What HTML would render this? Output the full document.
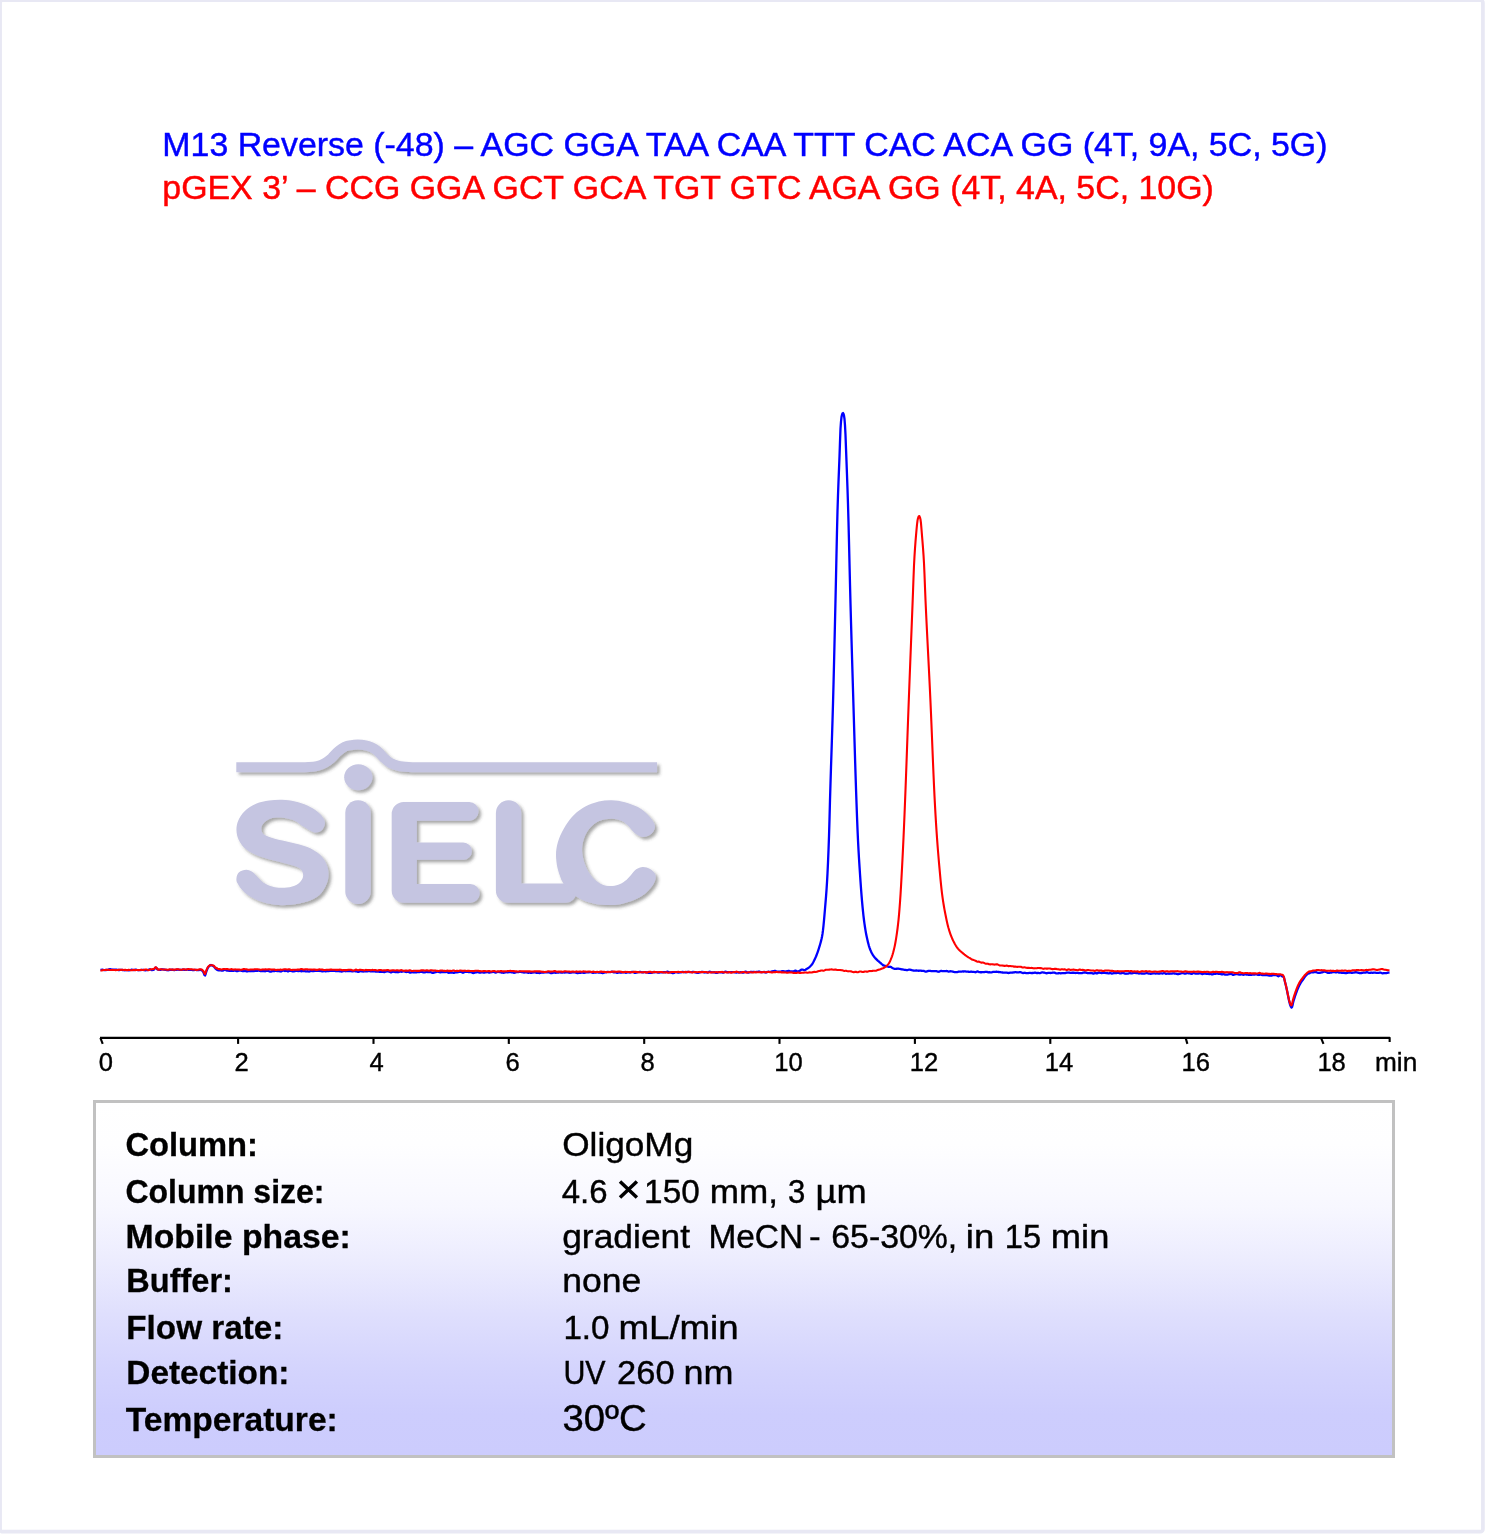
<!DOCTYPE html>
<html lang="en">
<head>
<meta charset="utf-8">
<title>Chromatogram</title>
<style>
html,body{margin:0;padding:0;background:#fff;}
body{width:1487px;height:1536px;overflow:hidden;}
svg{display:block;font-family:"Liberation Sans",sans-serif;will-change:transform;}
</style>
</head>
<body>
<svg width="1487" height="1536" viewBox="0 0 1487 1536">
<defs>
<linearGradient id="boxg" x1="0" y1="0" x2="0" y2="1">
<stop offset="0" stop-color="#ffffff"/>
<stop offset="0.12" stop-color="#fefeff"/>
<stop offset="0.30" stop-color="#f7f7ff"/>
<stop offset="0.45" stop-color="#ececfe"/>
<stop offset="0.60" stop-color="#dfdffd"/>
<stop offset="0.75" stop-color="#d4d4fd"/>
<stop offset="0.88" stop-color="#cdcdfd"/>
<stop offset="1" stop-color="#ccccfd"/>
</linearGradient>
<filter id="sh" x="-5%" y="-5%" width="110%" height="110%">
<feDropShadow dx="2.6" dy="2.6" stdDeviation="1.4" flood-color="#404040" flood-opacity="0.46"/>
</filter>
</defs>
<rect width="1487" height="1536" fill="#fff"/>
<rect x="0.1" y="0.15" width="1482.8" height="1531.55" rx="2.5" ry="2.5" fill="none" stroke="#e8e8f4" stroke-width="3.7"/>

<g font-size="33.9px" stroke-width="0.45">
<text x="162.3" y="156.3" stroke="#0000ff" fill="#0000ff">M13 Reverse (-48) – AGC GGA TAA CAA TTT CAC ACA GG (4T, 9A, 5C, 5G)</text>
<text x="162.3" y="199.0" fill="#ff0000" stroke="#ff0000">pGEX 3’ – CCG GGA GCT GCA TGT GTC AGA GG (4T, 4A, 5C, 10G)</text>
</g>

<g fill="#c5c5e1" filter="url(#sh)">
<path d="M236.3,767.2 C241.9,767.2 259.4,767.2 270.0,767.2 C280.6,767.2 293.5,767.2 300.0,767.2 C306.5,767.2 305.9,767.3 308.8,767.1 C311.7,766.9 314.6,766.7 317.3,766.0 C320.0,765.3 322.5,764.3 324.8,763.0 C327.1,761.7 329.4,759.9 331.4,758.2 C333.4,756.5 334.9,754.2 336.6,752.6 C338.3,751.0 340.0,749.5 341.8,748.4 C343.6,747.3 345.4,746.4 347.4,745.8 C349.4,745.2 352.3,745.0 354.0,744.8 C355.7,744.6 356.5,744.6 357.8,744.6 C359.1,744.6 359.9,744.6 361.6,744.8 C363.3,745.0 366.1,745.3 368.2,746.0 C370.3,746.7 372.4,747.6 374.3,748.8 C376.2,750.0 377.9,751.5 379.5,753.1 C381.1,754.7 382.4,756.6 384.2,758.2 C386.0,759.9 387.9,761.7 390.3,763.0 C392.7,764.3 395.2,765.1 398.3,765.8 C401.4,766.5 405.5,766.8 408.6,767.0 C411.7,767.2 411.9,767.2 417.1,767.2 C422.3,767.2 400.0,767.2 440.0,767.2 C480.0,767.2 620.9,767.2 657.1,767.2" fill="none" stroke="#c5c5e1" stroke-width="10"/>
<ellipse cx="358.3" cy="777.3" rx="14.1" ry="13.0"/>
<path d="M324.8,824.2 C324.4,826.2 323.3,829.1 321.5,830.5 C319.7,831.9 316.9,832.9 313.8,832.3 C310.8,831.6 306.3,828.5 303.2,826.6 C300.1,824.7 298.5,822.4 295.1,820.9 C291.7,819.4 287.0,818.1 282.9,817.7 C278.8,817.3 273.9,817.5 270.7,818.5 C267.4,819.5 265.0,821.6 263.4,823.4 C261.8,825.2 261.2,827.2 261.3,829.1 C261.4,831.0 261.9,833.2 264.2,834.8 C266.4,836.4 270.3,837.5 274.8,838.8 C279.3,840.1 285.6,841.1 291.0,842.5 C296.4,843.9 302.6,845.0 307.3,847.0 C312.1,849.0 316.4,851.6 319.5,854.3 C322.6,857.0 324.5,860.1 326.0,863.2 C327.5,866.3 328.4,869.6 328.5,873.0 C328.6,876.4 328.3,879.9 326.8,883.6 C325.3,887.3 322.8,892.0 319.5,895.0 C316.2,898.0 312.1,899.9 307.3,901.5 C302.6,903.1 296.4,904.2 291.0,904.7 C285.6,905.2 280.2,905.4 274.8,904.7 C269.4,904.0 263.5,902.7 258.5,900.7 C253.5,898.7 248.1,895.4 244.6,892.5 C241.1,889.6 239.0,886.0 237.7,883.6 C236.3,881.2 236.3,879.8 236.5,877.9 C236.7,876.0 237.4,873.6 239.0,872.2 C240.6,870.8 244.0,869.7 246.3,869.7 C248.6,869.7 250.8,870.8 252.8,872.2 C254.8,873.6 256.5,876.0 258.5,877.9 C260.5,879.8 262.3,882.0 265.0,883.6 C267.7,885.2 271.1,886.5 274.8,887.2 C278.5,887.9 283.4,888.0 287.0,887.6 C290.6,887.2 294.1,886.3 296.7,884.8 C299.3,883.3 301.4,880.7 302.4,878.7 C303.4,876.7 303.3,874.8 302.8,873.0 C302.3,871.2 301.2,869.5 299.2,868.1 C297.2,866.8 295.1,866.1 291.0,864.9 C286.9,863.7 280.2,862.3 274.8,860.8 C269.4,859.3 263.2,857.8 258.5,855.9 C253.8,854.0 249.6,852.0 246.3,849.4 C243.1,846.8 240.6,843.5 239.0,840.4 C237.4,837.3 236.7,834.0 236.5,830.7 C236.3,827.5 236.8,824.1 238.1,820.9 C239.4,817.6 241.6,814.1 244.6,811.2 C247.6,808.4 251.9,805.6 256.0,803.8 C260.1,802.0 264.8,801.3 269.1,800.6 C273.5,799.9 277.8,799.7 282.1,799.8 C286.4,799.9 290.9,800.4 295.1,801.4 C299.3,802.4 303.5,803.7 307.3,805.5 C311.1,807.3 315.2,809.8 317.9,812.0 C320.6,814.2 322.5,816.5 323.6,818.5 C324.8,820.5 325.2,822.2 324.8,824.2Z"/>
<rect x="345.3" y="800.3" width="25.4" height="103.6" rx="12.3" ry="12.3"/>
<path d="M403.7,802.1 H469.2 A9.35,9.35 0 0 1 469.2,820.8 H416.8 V842.5 H463.2 A8.65,8.65 0 0 1 463.2,859.8 H416.8 V884.1 H470.3 A9.35,9.35 0 0 1 470.3,902.8 H403.7 A12,12 0 0 1 391.7,890.8 V814.1 A12,12 0 0 1 403.7,802.1 Z"/>
<path d="M495.9,812.9 A12.7,12.7 0 0 1 521.3,812.9 V883.4 H576 V892.8 A10,10 0 0 1 566,902.8 H507.9 A12,12 0 0 1 495.9,890.8 Z"/>
<path d="M654.9,827.6 C655.1,825.7 654.7,824.2 653.5,822.0 C652.3,819.8 650.2,816.9 647.6,814.4 C645.0,811.9 641.7,809.1 637.9,807.1 C634.1,805.1 629.2,803.4 624.9,802.2 C620.5,801.1 616.1,800.3 611.8,800.2 C607.4,800.1 603.1,800.4 598.8,801.4 C594.5,802.4 589.9,804.1 585.8,806.3 C581.7,808.5 577.8,811.1 574.4,814.4 C571.0,817.6 568.1,821.7 565.5,825.8 C562.9,829.9 560.6,834.5 559.0,838.8 C557.4,843.1 556.5,847.4 556.1,851.8 C555.8,856.1 556.3,861.0 556.9,864.9 C557.5,868.8 558.8,872.4 559.8,875.4 C560.8,878.4 561.5,880.3 563.0,882.8 C564.5,885.3 566.3,888.3 568.5,890.5 C570.7,892.7 573.4,894.5 576.0,896.2 C578.6,897.9 580.9,899.4 584.2,900.7 C587.5,902.0 591.5,903.2 595.6,903.9 C599.7,904.6 604.3,905.1 608.6,905.1 C612.9,905.1 617.3,904.8 621.6,903.9 C625.9,903.0 630.8,901.4 634.6,899.8 C638.4,898.2 641.5,896.4 644.4,894.2 C647.2,892.0 649.9,889.2 651.7,886.8 C653.5,884.3 654.9,881.7 655.4,879.5 C655.9,877.3 655.9,875.6 655.0,873.8 C654.1,872.0 652.1,870.0 650.1,868.9 C648.1,867.8 645.1,866.8 642.8,866.9 C640.5,867.0 638.2,867.9 636.2,869.3 C634.2,870.7 632.5,873.4 630.6,875.4 C628.7,877.4 627.0,879.5 624.9,881.1 C622.8,882.7 620.8,884.0 618.3,884.8 C615.8,885.6 612.9,886.1 610.2,886.0 C607.5,885.9 604.8,885.6 602.1,884.4 C599.4,883.2 596.4,881.2 593.9,878.7 C591.4,876.2 589.1,873.0 587.4,869.7 C585.6,866.5 584.3,862.7 583.4,859.2 C582.5,855.7 582.0,852.1 582.1,848.6 C582.2,845.1 583.0,841.2 584.2,838.0 C585.4,834.8 587.1,831.7 589.1,829.1 C591.1,826.5 593.7,824.1 596.4,822.5 C599.1,820.9 602.3,819.9 605.3,819.3 C608.3,818.7 611.4,818.6 614.3,818.9 C617.1,819.2 620.0,820.0 622.4,821.3 C624.8,822.6 626.9,824.6 628.9,826.6 C630.9,828.6 632.7,831.5 634.6,833.1 C636.5,834.7 638.4,835.8 640.3,836.4 C642.2,837.0 644.2,837.1 646.2,836.6 C648.2,836.1 650.5,834.8 652.0,833.3 C653.5,831.8 654.6,829.5 654.9,827.6Z"/>
</g>

<path d="M100.5,970.00 L101.0,969.93 L101.5,969.82 L102.0,969.71 L102.5,969.70 L103.0,969.81 L103.5,969.95 L104.0,970.03 L104.5,970.05 L105.0,970.04 L105.5,970.02 L106.0,970.00 L106.5,969.98 L107.0,969.93 L107.5,969.87 L108.0,969.78 L108.5,969.62 L109.0,969.41 L109.5,969.23 L110.0,969.19 L110.5,969.26 L111.0,969.43 L111.5,969.64 L112.0,969.76 L112.5,969.72 L113.0,969.61 L113.5,969.53 L114.0,969.54 L114.5,969.60 L115.0,969.65 L115.5,969.60 L116.0,969.56 L116.5,969.62 L117.0,969.75 L117.5,969.88 L118.0,969.98 L118.5,970.02 L119.0,970.01 L119.5,970.00 L120.0,969.96 L120.5,969.89 L121.0,969.88 L121.5,969.90 L122.0,969.94 L122.5,969.99 L123.0,970.03 L123.5,970.05 L124.0,970.13 L124.5,970.25 L125.0,970.27 L125.5,970.20 L126.0,970.11 L126.5,970.03 L127.0,970.05 L127.5,970.13 L128.0,970.20 L128.5,970.26 L129.0,970.29 L129.5,970.24 L130.0,970.13 L130.5,969.99 L131.0,969.85 L131.5,969.75 L132.0,969.73 L132.5,969.82 L133.0,969.98 L133.5,970.07 L134.0,970.05 L134.5,969.91 L135.0,969.73 L135.5,969.61 L136.0,969.64 L136.5,969.80 L137.0,970.00 L137.5,970.16 L138.0,970.18 L138.5,970.10 L139.0,970.06 L139.5,970.06 L140.0,970.10 L140.5,970.09 L141.0,970.04 L141.5,969.96 L142.0,969.88 L142.5,969.81 L143.0,969.79 L143.5,969.88 L144.0,970.04 L144.5,970.20 L145.0,970.26 L145.5,970.25 L146.0,970.22 L146.5,970.20 L147.0,970.19 L147.5,970.11 L148.0,969.98 L148.5,969.77 L149.0,969.54 L149.5,969.38 L150.0,969.35 L150.5,969.50 L151.0,969.78 L151.5,970.02 L152.0,970.08 L152.5,970.00 L153.0,969.89 L153.5,969.78 L154.0,969.49 L154.5,968.84 L155.0,968.12 L155.5,967.67 L156.0,967.56 L156.5,968.04 L157.0,968.79 L157.5,969.48 L158.0,969.60 L158.5,969.69 L159.0,969.81 L159.5,969.91 L160.0,969.94 L160.5,969.85 L161.0,969.66 L161.5,969.48 L162.0,969.38 L162.5,969.37 L163.0,969.44 L163.5,969.53 L164.0,969.62 L164.5,969.71 L165.0,969.83 L165.5,969.91 L166.0,969.94 L166.5,969.99 L167.0,970.09 L167.5,970.19 L168.0,970.24 L168.5,970.17 L169.0,970.02 L169.5,969.91 L170.0,969.91 L170.5,969.93 L171.0,969.90 L171.5,969.80 L172.0,969.70 L172.5,969.70 L173.0,969.83 L173.5,970.01 L174.0,970.14 L174.5,970.14 L175.0,970.01 L175.5,969.87 L176.0,969.79 L176.5,969.77 L177.0,969.77 L177.5,969.72 L178.0,969.67 L178.5,969.71 L179.0,969.79 L179.5,969.86 L180.0,969.92 L180.5,969.96 L181.0,969.95 L181.5,969.92 L182.0,969.82 L182.5,969.66 L183.0,969.59 L183.5,969.66 L184.0,969.78 L184.5,969.87 L185.0,969.91 L185.5,969.89 L186.0,969.83 L186.5,969.74 L187.0,969.67 L187.5,969.66 L188.0,969.73 L188.5,969.86 L189.0,969.95 L189.5,969.94 L190.0,969.88 L190.5,969.85 L191.0,969.85 L191.5,969.87 L192.0,969.92 L192.5,970.00 L193.0,970.11 L193.5,970.19 L194.0,970.14 L194.5,969.99 L195.0,969.86 L195.5,969.85 L196.0,969.94 L196.5,970.06 L197.0,970.14 L197.5,970.17 L198.0,970.17 L198.5,970.16 L199.0,970.10 L199.5,969.99 L200.0,969.89 L200.5,969.87 L201.0,969.95 L201.5,970.29 L202.0,970.28 L202.5,970.88 L203.0,971.57 L203.5,972.37 L204.0,973.73 L204.5,975.06 L205.0,975.46 L205.5,974.42 L206.0,972.62 L206.5,971.00 L207.0,969.74 L207.5,968.51 L208.0,967.47 L208.5,966.80 L209.0,966.39 L209.5,966.04 L210.0,965.26 L210.5,965.03 L211.0,965.01 L211.5,965.18 L212.0,965.42 L212.5,965.66 L213.0,965.84 L213.5,966.20 L214.0,966.59 L214.5,967.21 L215.0,967.91 L215.5,968.56 L216.0,969.00 L216.5,969.40 L217.0,969.78 L217.5,970.06 L218.0,970.22 L218.5,970.28 L219.0,970.27 L219.5,970.27 L220.0,970.28 L220.5,970.34 L221.0,970.46 L221.5,970.58 L222.0,970.66 L222.5,970.65 L223.0,970.55 L223.5,970.34 L224.0,970.03 L224.5,969.73 L225.0,969.63 L225.5,969.82 L226.0,970.14 L226.5,970.41 L227.0,970.56 L227.5,970.58 L228.0,970.61 L228.5,970.71 L229.0,970.81 L229.5,970.85 L230.0,970.87 L230.5,970.92 L231.0,970.96 L231.5,970.93 L232.0,970.84 L232.5,970.76 L233.0,970.74 L233.5,970.74 L234.0,970.73 L234.5,970.68 L235.0,970.64 L235.5,970.73 L236.0,970.93 L236.5,971.11 L237.0,971.21 L237.5,971.16 L238.0,970.93 L238.5,970.70 L239.0,970.60 L239.5,970.59 L240.0,970.63 L240.5,970.69 L241.0,970.72 L241.5,970.79 L242.0,970.94 L242.5,971.10 L243.0,971.21 L243.5,971.20 L244.0,971.06 L244.5,970.89 L245.0,970.81 L245.5,970.89 L246.0,971.11 L246.5,971.32 L247.0,971.39 L247.5,971.30 L248.0,971.15 L248.5,971.02 L249.0,970.97 L249.5,971.04 L250.0,971.16 L250.5,971.23 L251.0,971.18 L251.5,971.05 L252.0,970.99 L252.5,971.05 L253.0,971.15 L253.5,971.15 L254.0,971.03 L254.5,970.87 L255.0,970.82 L255.5,970.87 L256.0,970.94 L256.5,970.96 L257.0,970.91 L257.5,970.80 L258.0,970.70 L258.5,970.66 L259.0,970.69 L259.5,970.78 L260.0,970.95 L260.5,971.12 L261.0,971.21 L261.5,971.20 L262.0,971.13 L262.5,971.01 L263.0,970.91 L263.5,970.94 L264.0,971.08 L264.5,971.21 L265.0,971.25 L265.5,971.17 L266.0,970.99 L266.5,970.79 L267.0,970.70 L267.5,970.73 L268.0,970.83 L268.5,971.00 L269.0,971.23 L269.5,971.40 L270.0,971.51 L270.5,971.58 L271.0,971.55 L271.5,971.38 L272.0,971.15 L272.5,970.96 L273.0,970.94 L273.5,971.09 L274.0,971.21 L274.5,971.18 L275.0,971.02 L275.5,970.87 L276.0,970.85 L276.5,970.96 L277.0,971.06 L277.5,971.11 L278.0,971.10 L278.5,971.09 L279.0,971.09 L279.5,971.16 L280.0,971.31 L280.5,971.46 L281.0,971.48 L281.5,971.35 L282.0,971.09 L282.5,970.79 L283.0,970.59 L283.5,970.60 L284.0,970.77 L284.5,970.94 L285.0,971.00 L285.5,970.93 L286.0,970.80 L286.5,970.83 L287.0,971.07 L287.5,971.34 L288.0,971.42 L288.5,971.28 L289.0,971.04 L289.5,970.84 L290.0,970.78 L290.5,970.79 L291.0,970.83 L291.5,970.92 L292.0,971.11 L292.5,971.33 L293.0,971.46 L293.5,971.46 L294.0,971.34 L294.5,971.19 L295.0,971.05 L295.5,970.89 L296.0,970.75 L296.5,970.71 L297.0,970.79 L297.5,970.96 L298.0,971.13 L298.5,971.15 L299.0,971.03 L299.5,970.92 L300.0,970.91 L300.5,970.99 L301.0,971.15 L301.5,971.25 L302.0,971.19 L302.5,971.07 L303.0,971.00 L303.5,970.97 L304.0,971.00 L304.5,971.09 L305.0,971.21 L305.5,971.33 L306.0,971.43 L306.5,971.40 L307.0,971.28 L307.5,971.22 L308.0,971.30 L308.5,971.46 L309.0,971.54 L309.5,971.44 L310.0,971.20 L310.5,970.99 L311.0,970.91 L311.5,970.94 L312.0,971.07 L312.5,971.18 L313.0,971.19 L313.5,971.11 L314.0,971.01 L314.5,970.93 L315.0,970.90 L315.5,970.91 L316.0,970.89 L316.5,970.82 L317.0,970.75 L317.5,970.76 L318.0,970.84 L318.5,970.93 L319.0,970.98 L319.5,970.97 L320.0,970.92 L320.5,970.93 L321.0,971.04 L321.5,971.19 L322.0,971.30 L322.5,971.34 L323.0,971.29 L323.5,971.20 L324.0,971.15 L324.5,971.17 L325.0,971.23 L325.5,971.27 L326.0,971.24 L326.5,971.16 L327.0,971.12 L327.5,971.15 L328.0,971.21 L328.5,971.21 L329.0,971.11 L329.5,971.00 L330.0,970.89 L330.5,970.82 L331.0,970.82 L331.5,970.89 L332.0,970.95 L332.5,970.97 L333.0,970.91 L333.5,970.81 L334.0,970.79 L334.5,970.86 L335.0,970.96 L335.5,971.04 L336.0,971.11 L336.5,971.15 L337.0,971.14 L337.5,971.04 L338.0,970.91 L338.5,970.91 L339.0,971.03 L339.5,971.23 L340.0,971.39 L340.5,971.44 L341.0,971.45 L341.5,971.50 L342.0,971.51 L342.5,971.38 L343.0,971.13 L343.5,970.90 L344.0,970.86 L344.5,971.02 L345.0,971.19 L345.5,971.23 L346.0,971.18 L346.5,971.11 L347.0,971.07 L347.5,971.07 L348.0,971.09 L348.5,971.12 L349.0,971.16 L349.5,971.20 L350.0,971.13 L350.5,971.04 L351.0,971.08 L351.5,971.26 L352.0,971.45 L352.5,971.47 L353.0,971.30 L353.5,971.07 L354.0,970.97 L354.5,971.05 L355.0,971.19 L355.5,971.27 L356.0,971.27 L356.5,971.29 L357.0,971.45 L357.5,971.69 L358.0,971.87 L358.5,971.87 L359.0,971.70 L359.5,971.47 L360.0,971.29 L360.5,971.22 L361.0,971.22 L361.5,971.27 L362.0,971.36 L362.5,971.47 L363.0,971.52 L363.5,971.49 L364.0,971.38 L364.5,971.27 L365.0,971.23 L365.5,971.28 L366.0,971.36 L366.5,971.39 L367.0,971.35 L367.5,971.26 L368.0,971.19 L368.5,971.13 L369.0,971.10 L369.5,971.10 L370.0,971.19 L370.5,971.31 L371.0,971.42 L371.5,971.47 L372.0,971.42 L372.5,971.35 L373.0,971.32 L373.5,971.34 L374.0,971.36 L374.5,971.41 L375.0,971.47 L375.5,971.53 L376.0,971.59 L376.5,971.61 L377.0,971.56 L377.5,971.52 L378.0,971.55 L378.5,971.64 L379.0,971.73 L379.5,971.77 L380.0,971.74 L380.5,971.72 L381.0,971.75 L381.5,971.79 L382.0,971.77 L382.5,971.74 L383.0,971.77 L383.5,971.89 L384.0,972.01 L384.5,972.01 L385.0,971.90 L385.5,971.72 L386.0,971.55 L386.5,971.42 L387.0,971.31 L387.5,971.21 L388.0,971.22 L388.5,971.38 L389.0,971.57 L389.5,971.80 L390.0,972.05 L390.5,972.25 L391.0,972.33 L391.5,972.26 L392.0,972.03 L392.5,971.74 L393.0,971.59 L393.5,971.64 L394.0,971.81 L394.5,971.97 L395.0,972.02 L395.5,971.99 L396.0,971.97 L396.5,972.01 L397.0,972.12 L397.5,972.22 L398.0,972.23 L398.5,972.13 L399.0,971.94 L399.5,971.73 L400.0,971.62 L400.5,971.63 L401.0,971.70 L401.5,971.75 L402.0,971.71 L402.5,971.61 L403.0,971.48 L403.5,971.38 L404.0,971.36 L404.5,971.47 L405.0,971.66 L405.5,971.87 L406.0,972.01 L406.5,971.99 L407.0,971.83 L407.5,971.70 L408.0,971.68 L408.5,971.83 L409.0,972.12 L409.5,972.43 L410.0,972.58 L410.5,972.56 L411.0,972.45 L411.5,972.30 L412.0,972.18 L412.5,972.19 L413.0,972.29 L413.5,972.39 L414.0,972.43 L414.5,972.39 L415.0,972.32 L415.5,972.32 L416.0,972.37 L416.5,972.36 L417.0,972.25 L417.5,972.12 L418.0,972.09 L418.5,972.13 L419.0,972.14 L419.5,972.06 L420.0,971.94 L420.5,971.80 L421.0,971.75 L421.5,971.82 L422.0,971.97 L422.5,972.11 L423.0,972.24 L423.5,972.31 L424.0,972.31 L424.5,972.30 L425.0,972.25 L425.5,972.15 L426.0,972.02 L426.5,971.94 L427.0,971.97 L427.5,972.06 L428.0,972.11 L428.5,972.10 L429.0,972.08 L429.5,972.08 L430.0,972.10 L430.5,972.14 L431.0,972.24 L431.5,972.45 L432.0,972.72 L432.5,972.90 L433.0,972.92 L433.5,972.79 L434.0,972.60 L434.5,972.40 L435.0,972.27 L435.5,972.17 L436.0,972.05 L436.5,971.92 L437.0,971.79 L437.5,971.70 L438.0,971.72 L438.5,971.85 L439.0,972.03 L439.5,972.16 L440.0,972.24 L440.5,972.27 L441.0,972.24 L441.5,972.12 L442.0,972.02 L442.5,972.02 L443.0,972.08 L443.5,972.14 L444.0,972.14 L444.5,972.11 L445.0,972.08 L445.5,972.03 L446.0,971.96 L446.5,971.93 L447.0,972.07 L447.5,972.33 L448.0,972.59 L448.5,972.75 L449.0,972.78 L449.5,972.71 L450.0,972.64 L450.5,972.59 L451.0,972.55 L451.5,972.52 L452.0,972.54 L452.5,972.63 L453.0,972.73 L453.5,972.84 L454.0,972.83 L454.5,972.66 L455.0,972.39 L455.5,972.20 L456.0,972.18 L456.5,972.28 L457.0,972.34 L457.5,972.26 L458.0,972.12 L458.5,972.01 L459.0,971.95 L459.5,971.97 L460.0,971.96 L460.5,971.89 L461.0,971.90 L461.5,972.03 L462.0,972.29 L462.5,972.60 L463.0,972.76 L463.5,972.63 L464.0,972.31 L464.5,971.97 L465.0,971.76 L465.5,971.74 L466.0,971.81 L466.5,971.86 L467.0,971.87 L467.5,971.90 L468.0,971.98 L468.5,972.09 L469.0,972.16 L469.5,972.17 L470.0,972.10 L470.5,971.98 L471.0,971.95 L471.5,972.11 L472.0,972.46 L472.5,972.84 L473.0,973.05 L473.5,973.01 L474.0,972.83 L474.5,972.65 L475.0,972.53 L475.5,972.45 L476.0,972.37 L476.5,972.28 L477.0,972.22 L477.5,972.15 L478.0,972.15 L478.5,972.26 L479.0,972.42 L479.5,972.55 L480.0,972.61 L480.5,972.57 L481.0,972.45 L481.5,972.37 L482.0,972.36 L482.5,972.39 L483.0,972.48 L483.5,972.60 L484.0,972.64 L484.5,972.57 L485.0,972.48 L485.5,972.41 L486.0,972.31 L486.5,972.20 L487.0,972.11 L487.5,972.11 L488.0,972.25 L488.5,972.46 L489.0,972.58 L489.5,972.56 L490.0,972.44 L490.5,972.33 L491.0,972.28 L491.5,972.22 L492.0,972.08 L492.5,971.92 L493.0,971.79 L493.5,971.75 L494.0,971.87 L494.5,972.12 L495.0,972.40 L495.5,972.57 L496.0,972.54 L496.5,972.33 L497.0,972.06 L497.5,971.89 L498.0,971.89 L498.5,971.96 L499.0,972.00 L499.5,972.04 L500.0,972.11 L500.5,972.23 L501.0,972.39 L501.5,972.53 L502.0,972.60 L502.5,972.66 L503.0,972.73 L503.5,972.76 L504.0,972.72 L504.5,972.57 L505.0,972.39 L505.5,972.25 L506.0,972.20 L506.5,972.22 L507.0,972.33 L507.5,972.42 L508.0,972.39 L508.5,972.26 L509.0,972.10 L509.5,971.99 L510.0,972.00 L510.5,972.12 L511.0,972.23 L511.5,972.28 L512.0,972.31 L512.5,972.35 L513.0,972.48 L513.5,972.68 L514.0,972.80 L514.5,972.77 L515.0,972.60 L515.5,972.39 L516.0,972.24 L516.5,972.21 L517.0,972.21 L517.5,972.16 L518.0,972.10 L518.5,972.02 L519.0,971.90 L519.5,971.77 L520.0,971.75 L520.5,971.85 L521.0,971.99 L521.5,972.09 L522.0,972.13 L522.5,972.18 L523.0,972.29 L523.5,972.43 L524.0,972.52 L524.5,972.50 L525.0,972.39 L525.5,972.27 L526.0,972.21 L526.5,972.25 L527.0,972.39 L527.5,972.59 L528.0,972.75 L528.5,972.77 L529.0,972.68 L529.5,972.62 L530.0,972.69 L530.5,972.81 L531.0,972.88 L531.5,972.84 L532.0,972.73 L532.5,972.64 L533.0,972.58 L533.5,972.49 L534.0,972.34 L534.5,972.21 L535.0,972.24 L535.5,972.43 L536.0,972.66 L536.5,972.78 L537.0,972.76 L537.5,972.73 L538.0,972.77 L538.5,972.89 L539.0,972.99 L539.5,973.02 L540.0,972.95 L540.5,972.82 L541.0,972.70 L541.5,972.64 L542.0,972.60 L542.5,972.59 L543.0,972.60 L543.5,972.58 L544.0,972.52 L544.5,972.45 L545.0,972.38 L545.5,972.34 L546.0,972.35 L546.5,972.37 L547.0,972.40 L547.5,972.43 L548.0,972.41 L548.5,972.36 L549.0,972.34 L549.5,972.43 L550.0,972.67 L550.5,972.98 L551.0,973.20 L551.5,973.22 L552.0,973.05 L552.5,972.85 L553.0,972.75 L553.5,972.71 L554.0,972.69 L554.5,972.68 L555.0,972.72 L555.5,972.75 L556.0,972.74 L556.5,972.69 L557.0,972.62 L557.5,972.61 L558.0,972.63 L558.5,972.59 L559.0,972.43 L559.5,972.31 L560.0,972.31 L560.5,972.43 L561.0,972.60 L561.5,972.72 L562.0,972.69 L562.5,972.58 L563.0,972.49 L563.5,972.45 L564.0,972.44 L564.5,972.49 L565.0,972.49 L565.5,972.45 L566.0,972.43 L566.5,972.43 L567.0,972.40 L567.5,972.37 L568.0,972.41 L568.5,972.50 L569.0,972.63 L569.5,972.74 L570.0,972.75 L570.5,972.67 L571.0,972.60 L571.5,972.55 L572.0,972.48 L572.5,972.40 L573.0,972.36 L573.5,972.35 L574.0,972.35 L574.5,972.38 L575.0,972.44 L575.5,972.54 L576.0,972.70 L576.5,972.86 L577.0,973.00 L577.5,973.08 L578.0,973.08 L578.5,972.99 L579.0,972.87 L579.5,972.84 L580.0,972.88 L580.5,972.84 L581.0,972.68 L581.5,972.49 L582.0,972.42 L582.5,972.52 L583.0,972.69 L583.5,972.78 L584.0,972.77 L584.5,972.73 L585.0,972.68 L585.5,972.58 L586.0,972.43 L586.5,972.31 L587.0,972.30 L587.5,972.35 L588.0,972.41 L588.5,972.41 L589.0,972.33 L589.5,972.21 L590.0,972.08 L590.5,972.04 L591.0,972.12 L591.5,972.33 L592.0,972.57 L592.5,972.74 L593.0,972.78 L593.5,972.73 L594.0,972.70 L594.5,972.70 L595.0,972.70 L595.5,972.65 L596.0,972.57 L596.5,972.46 L597.0,972.39 L597.5,972.40 L598.0,972.45 L598.5,972.49 L599.0,972.49 L599.5,972.49 L600.0,972.48 L600.5,972.52 L601.0,972.65 L601.5,972.81 L602.0,972.99 L602.5,973.08 L603.0,973.02 L603.5,972.83 L604.0,972.63 L604.5,972.51 L605.0,972.47 L605.5,972.44 L606.0,972.33 L606.5,972.14 L607.0,971.97 L607.5,971.89 L608.0,971.93 L608.5,972.02 L609.0,972.12 L609.5,972.20 L610.0,972.18 L610.5,972.06 L611.0,971.89 L611.5,971.70 L612.0,971.65 L612.5,971.81 L613.0,972.07 L613.5,972.28 L614.0,972.38 L614.5,972.36 L615.0,972.31 L615.5,972.32 L616.0,972.44 L616.5,972.62 L617.0,972.78 L617.5,972.81 L618.0,972.72 L618.5,972.57 L619.0,972.46 L619.5,972.47 L620.0,972.57 L620.5,972.66 L621.0,972.63 L621.5,972.52 L622.0,972.42 L622.5,972.35 L623.0,972.32 L623.5,972.29 L624.0,972.21 L624.5,972.18 L625.0,972.37 L625.5,972.64 L626.0,972.78 L626.5,972.71 L627.0,972.50 L627.5,972.32 L628.0,972.26 L628.5,972.31 L629.0,972.40 L629.5,972.48 L630.0,972.51 L630.5,972.45 L631.0,972.27 L631.5,972.00 L632.0,971.79 L632.5,971.78 L633.0,971.92 L633.5,972.17 L634.0,972.49 L634.5,972.75 L635.0,972.85 L635.5,972.83 L636.0,972.76 L636.5,972.63 L637.0,972.49 L637.5,972.34 L638.0,972.19 L638.5,972.10 L639.0,972.06 L639.5,972.00 L640.0,971.95 L640.5,971.96 L641.0,972.07 L641.5,972.25 L642.0,972.42 L642.5,972.48 L643.0,972.42 L643.5,972.30 L644.0,972.18 L644.5,972.14 L645.0,972.18 L645.5,972.24 L646.0,972.26 L646.5,972.28 L647.0,972.33 L647.5,972.43 L648.0,972.63 L648.5,972.82 L649.0,972.89 L649.5,972.89 L650.0,972.89 L650.5,972.89 L651.0,972.90 L651.5,972.86 L652.0,972.68 L652.5,972.42 L653.0,972.28 L653.5,972.27 L654.0,972.30 L654.5,972.30 L655.0,972.24 L655.5,972.14 L656.0,972.06 L656.5,972.08 L657.0,972.21 L657.5,972.40 L658.0,972.56 L658.5,972.65 L659.0,972.65 L659.5,972.56 L660.0,972.47 L660.5,972.41 L661.0,972.39 L661.5,972.42 L662.0,972.46 L662.5,972.44 L663.0,972.35 L663.5,972.24 L664.0,972.15 L664.5,972.15 L665.0,972.24 L665.5,972.27 L666.0,972.16 L666.5,971.95 L667.0,971.74 L667.5,971.68 L668.0,971.86 L668.5,972.15 L669.0,972.33 L669.5,972.37 L670.0,972.38 L670.5,972.41 L671.0,972.52 L671.5,972.70 L672.0,972.89 L672.5,973.03 L673.0,973.09 L673.5,973.04 L674.0,972.85 L674.5,972.60 L675.0,972.38 L675.5,972.22 L676.0,972.10 L676.5,972.06 L677.0,972.17 L677.5,972.38 L678.0,972.53 L678.5,972.58 L679.0,972.52 L679.5,972.44 L680.0,972.42 L680.5,972.45 L681.0,972.39 L681.5,972.18 L682.0,971.96 L682.5,971.88 L683.0,971.96 L683.5,972.07 L684.0,972.15 L684.5,972.17 L685.0,972.19 L685.5,972.23 L686.0,972.23 L686.5,972.10 L687.0,971.96 L687.5,971.90 L688.0,971.91 L688.5,971.97 L689.0,972.03 L689.5,972.06 L690.0,972.07 L690.5,972.11 L691.0,972.15 L691.5,972.13 L692.0,972.08 L692.5,972.00 L693.0,971.91 L693.5,971.89 L694.0,971.97 L694.5,972.16 L695.0,972.35 L695.5,972.48 L696.0,972.57 L696.5,972.65 L697.0,972.75 L697.5,972.85 L698.0,972.87 L698.5,972.77 L699.0,972.59 L699.5,972.40 L700.0,972.25 L700.5,972.16 L701.0,972.07 L701.5,971.95 L702.0,971.85 L702.5,971.84 L703.0,971.97 L703.5,972.22 L704.0,972.44 L704.5,972.49 L705.0,972.39 L705.5,972.26 L706.0,972.19 L706.5,972.27 L707.0,972.44 L707.5,972.55 L708.0,972.48 L708.5,972.24 L709.0,971.93 L709.5,971.72 L710.0,971.76 L710.5,971.94 L711.0,972.10 L711.5,972.22 L712.0,972.31 L712.5,972.33 L713.0,972.32 L713.5,972.27 L714.0,972.21 L714.5,972.22 L715.0,972.39 L715.5,972.62 L716.0,972.81 L716.5,972.93 L717.0,972.89 L717.5,972.70 L718.0,972.43 L718.5,972.22 L719.0,972.12 L719.5,972.17 L720.0,972.24 L720.5,972.25 L721.0,972.27 L721.5,972.34 L722.0,972.44 L722.5,972.56 L723.0,972.64 L723.5,972.58 L724.0,972.37 L724.5,972.09 L725.0,971.82 L725.5,971.68 L726.0,971.76 L726.5,971.98 L727.0,972.13 L727.5,972.21 L728.0,972.26 L728.5,972.24 L729.0,972.18 L729.5,972.14 L730.0,972.10 L730.5,972.07 L731.0,972.11 L731.5,972.15 L732.0,972.09 L732.5,972.05 L733.0,972.06 L733.5,972.09 L734.0,972.15 L734.5,972.24 L735.0,972.36 L735.5,972.48 L736.0,972.58 L736.5,972.57 L737.0,972.46 L737.5,972.36 L738.0,972.38 L738.5,972.46 L739.0,972.51 L739.5,972.46 L740.0,972.30 L740.5,972.15 L741.0,972.13 L741.5,972.25 L742.0,972.43 L742.5,972.58 L743.0,972.65 L743.5,972.59 L744.0,972.39 L744.5,972.06 L745.0,971.76 L745.5,971.63 L746.0,971.73 L746.5,971.97 L747.0,972.23 L747.5,972.44 L748.0,972.56 L748.5,972.57 L749.0,972.45 L749.5,972.26 L750.0,972.09 L750.5,971.99 L751.0,971.98 L751.5,972.02 L752.0,972.02 L752.5,971.97 L753.0,971.88 L753.5,971.82 L754.0,971.85 L754.5,971.98 L755.0,972.06 L755.5,972.05 L756.0,971.99 L756.5,971.92 L757.0,971.93 L757.5,971.91 L758.0,971.79 L758.5,971.61 L759.0,971.52 L759.5,971.63 L760.0,971.87 L760.5,972.07 L761.0,972.09 L761.5,972.05 L762.0,972.08 L762.5,972.17 L763.0,972.18 L763.5,972.04 L764.0,971.90 L764.5,971.95 L765.0,972.18 L765.5,972.44 L766.0,972.51 L766.5,972.36 L767.0,972.12 L767.5,971.91 L768.0,971.77 L768.5,971.72 L769.0,971.78 L769.5,971.88 L770.0,971.96 L770.5,971.92 L771.0,971.74 L771.5,971.54 L772.0,971.39 L772.5,971.29 L773.0,971.21 L773.5,971.14 L774.0,971.03 L774.5,970.94 L775.0,970.90 L775.5,970.96 L776.0,971.18 L776.5,971.50 L777.0,971.72 L777.5,971.76 L778.0,971.68 L778.5,971.58 L779.0,971.58 L779.5,971.69 L780.0,971.75 L780.5,971.65 L781.0,971.48 L781.5,971.33 L782.0,971.25 L782.5,971.24 L783.0,971.25 L783.5,971.27 L784.0,971.30 L784.5,971.38 L785.0,971.50 L785.5,971.54 L786.0,971.44 L786.5,971.30 L787.0,971.21 L787.5,971.12 L788.0,971.01 L788.5,970.95 L789.0,970.99 L789.5,971.10 L790.0,971.26 L790.5,971.40 L791.0,971.41 L791.5,971.39 L792.0,971.44 L792.5,971.52 L793.0,971.50 L793.5,971.37 L794.0,971.17 L794.5,970.90 L795.0,970.70 L795.5,970.70 L796.0,970.88 L796.5,971.11 L797.0,971.27 L797.5,971.32 L798.0,971.28 L798.5,971.26 L799.0,971.21 L799.5,971.02 L800.0,970.66 L800.5,970.20 L801.0,969.83 L801.5,969.63 L802.0,969.57 L802.5,969.61 L803.0,969.73 L803.5,969.89 L804.0,970.03 L804.5,970.09 L805.0,970.01 L805.5,969.73 L806.0,969.36 L806.5,969.02 L807.0,968.71 L807.5,968.36 L808.0,968.22 L808.5,967.87 L809.0,967.47 L809.5,967.03 L810.0,966.55 L810.5,966.04 L811.0,965.49 L811.5,964.92 L812.0,964.29 L812.5,963.56 L813.0,962.73 L813.5,961.82 L814.0,960.84 L814.5,959.80 L815.0,958.73 L815.5,957.62 L816.0,956.48 L816.5,955.26 L817.0,953.96 L817.5,952.58 L818.0,951.12 L818.5,949.60 L819.0,948.00 L819.5,946.39 L820.0,944.76 L820.5,943.04 L821.0,941.17 L821.5,939.08 L822.0,936.68 L822.5,933.90 L823.0,930.21 L823.5,925.58 L824.0,920.28 L824.5,914.58 L825.0,908.76 L825.5,902.95 L826.0,896.83 L826.5,890.09 L827.0,882.39 L827.5,873.32 L828.0,862.63 L828.5,850.36 L829.0,836.54 L829.5,819.38 L830.0,800.00 L830.5,783.17 L831.0,767.39 L831.5,752.10 L832.0,736.74 L832.5,720.77 L833.0,703.62 L833.5,684.82 L834.0,664.54 L834.5,643.30 L835.0,621.62 L835.5,600.00 L836.0,577.37 L836.5,553.66 L837.0,530.87 L837.5,511.04 L838.0,495.20 L838.5,481.64 L839.0,469.13 L839.5,456.46 L840.0,441.86 L840.5,428.59 L841.0,421.63 L841.5,417.06 L842.0,414.85 L842.5,413.42 L843.0,413.05 L843.5,413.88 L844.0,415.59 L844.5,418.99 L845.0,425.42 L845.5,435.00 L846.0,448.41 L846.5,461.63 L847.0,474.93 L847.5,488.99 L848.0,504.33 L848.5,521.89 L849.0,542.01 L849.5,563.30 L850.0,584.33 L850.5,603.71 L851.0,621.83 L851.5,639.39 L852.0,656.50 L852.5,673.33 L853.0,690.01 L853.5,706.69 L854.0,723.57 L854.5,740.43 L855.0,757.04 L855.5,773.13 L856.0,788.46 L856.5,802.79 L857.0,816.43 L857.5,829.15 L858.0,840.30 L858.5,849.88 L859.0,858.50 L859.5,866.43 L860.0,874.00 L860.5,881.36 L861.0,888.39 L861.5,894.95 L862.0,900.90 L862.5,906.35 L863.0,911.45 L863.5,916.11 L864.0,920.24 L864.5,923.89 L865.0,927.26 L865.5,930.36 L866.0,933.20 L866.5,935.78 L867.0,938.11 L867.5,940.31 L868.0,942.38 L868.5,944.30 L869.0,946.07 L869.5,947.66 L870.0,949.05 L870.5,950.27 L871.0,951.39 L871.5,952.44 L872.0,953.40 L872.5,954.29 L873.0,955.11 L873.5,955.87 L874.0,956.57 L874.5,957.21 L875.0,957.82 L875.5,958.38 L876.0,958.92 L876.5,959.42 L877.0,959.90 L877.5,960.36 L878.0,960.81 L878.5,961.24 L879.0,961.67 L879.5,962.10 L880.0,962.53 L880.5,962.97 L881.0,963.40 L881.5,963.82 L882.0,964.21 L882.5,964.57 L883.0,965.15 L883.5,965.45 L884.0,965.58 L884.5,965.67 L885.0,965.84 L885.5,966.06 L886.0,966.21 L886.5,966.27 L887.0,966.34 L887.5,966.47 L888.0,966.66 L888.5,966.82 L889.0,966.86 L889.5,966.78 L890.0,966.73 L890.5,966.80 L891.0,967.01 L891.5,967.32 L892.0,967.69 L892.5,968.01 L893.0,968.26 L893.5,968.50 L894.0,968.68 L894.5,968.77 L895.0,968.82 L895.5,968.82 L896.0,968.78 L896.5,968.77 L897.0,968.76 L897.5,968.70 L898.0,968.67 L898.5,968.72 L899.0,968.80 L899.5,968.87 L900.0,968.95 L900.5,969.04 L901.0,969.15 L901.5,969.30 L902.0,969.42 L902.5,969.46 L903.0,969.51 L903.5,969.62 L904.0,969.74 L904.5,969.83 L905.0,969.92 L905.5,969.96 L906.0,969.98 L906.5,970.04 L907.0,970.09 L907.5,970.02 L908.0,969.89 L908.5,969.74 L909.0,969.60 L909.5,969.56 L910.0,969.64 L910.5,969.78 L911.0,969.92 L911.5,970.08 L912.0,970.21 L912.5,970.30 L913.0,970.39 L913.5,970.53 L914.0,970.66 L914.5,970.72 L915.0,970.68 L915.5,970.55 L916.0,970.46 L916.5,970.49 L917.0,970.57 L917.5,970.65 L918.0,970.71 L918.5,970.75 L919.0,970.75 L919.5,970.71 L920.0,970.60 L920.5,970.54 L921.0,970.64 L921.5,970.82 L922.0,970.94 L922.5,970.94 L923.0,970.86 L923.5,970.82 L924.0,970.95 L924.5,971.19 L925.0,971.41 L925.5,971.56 L926.0,971.60 L926.5,971.53 L927.0,971.34 L927.5,971.14 L928.0,971.00 L928.5,970.90 L929.0,970.85 L929.5,970.86 L930.0,970.89 L930.5,970.95 L931.0,971.03 L931.5,971.10 L932.0,971.13 L932.5,971.10 L933.0,971.06 L933.5,971.04 L934.0,971.08 L934.5,971.15 L935.0,971.20 L935.5,971.19 L936.0,971.17 L936.5,971.22 L937.0,971.34 L937.5,971.52 L938.0,971.66 L938.5,971.73 L939.0,971.70 L939.5,971.55 L940.0,971.28 L940.5,971.00 L941.0,970.87 L941.5,970.88 L942.0,971.02 L942.5,971.16 L943.0,971.20 L943.5,971.17 L944.0,971.11 L944.5,971.09 L945.0,971.09 L945.5,971.08 L946.0,971.03 L946.5,970.99 L947.0,971.04 L947.5,971.21 L948.0,971.42 L948.5,971.56 L949.0,971.53 L949.5,971.41 L950.0,971.28 L950.5,971.24 L951.0,971.30 L951.5,971.39 L952.0,971.45 L952.5,971.53 L953.0,971.64 L953.5,971.78 L954.0,971.92 L954.5,972.04 L955.0,972.10 L955.5,972.14 L956.0,972.16 L956.5,972.17 L957.0,972.13 L957.5,972.03 L958.0,971.86 L958.5,971.71 L959.0,971.60 L959.5,971.56 L960.0,971.60 L960.5,971.68 L961.0,971.71 L961.5,971.63 L962.0,971.54 L962.5,971.47 L963.0,971.47 L963.5,971.50 L964.0,971.48 L964.5,971.42 L965.0,971.39 L965.5,971.46 L966.0,971.54 L966.5,971.60 L967.0,971.64 L967.5,971.69 L968.0,971.72 L968.5,971.75 L969.0,971.81 L969.5,971.83 L970.0,971.82 L970.5,971.75 L971.0,971.64 L971.5,971.64 L972.0,971.81 L972.5,971.95 L973.0,971.95 L973.5,971.89 L974.0,971.88 L974.5,972.00 L975.0,972.19 L975.5,972.25 L976.0,972.09 L976.5,971.80 L977.0,971.55 L977.5,971.46 L978.0,971.56 L978.5,971.82 L979.0,972.06 L979.5,972.18 L980.0,972.20 L980.5,972.24 L981.0,972.26 L981.5,972.24 L982.0,972.20 L982.5,972.13 L983.0,972.06 L983.5,972.05 L984.0,972.07 L984.5,972.05 L985.0,971.98 L985.5,971.92 L986.0,971.84 L986.5,971.80 L987.0,971.89 L987.5,972.09 L988.0,972.26 L988.5,972.29 L989.0,972.25 L989.5,972.22 L990.0,972.27 L990.5,972.39 L991.0,972.45 L991.5,972.38 L992.0,972.25 L992.5,972.09 L993.0,971.96 L993.5,971.91 L994.0,971.92 L994.5,971.95 L995.0,971.95 L995.5,971.88 L996.0,971.76 L996.5,971.73 L997.0,971.80 L997.5,971.90 L998.0,971.98 L998.5,972.00 L999.0,971.99 L999.5,972.05 L1000.0,972.13 L1000.5,972.21 L1001.0,972.30 L1001.5,972.38 L1002.0,972.43 L1002.5,972.50 L1003.0,972.60 L1003.5,972.66 L1004.0,972.70 L1004.5,972.69 L1005.0,972.64 L1005.5,972.56 L1006.0,972.53 L1006.5,972.58 L1007.0,972.67 L1007.5,972.80 L1008.0,972.95 L1008.5,973.01 L1009.0,972.94 L1009.5,972.80 L1010.0,972.64 L1010.5,972.56 L1011.0,972.61 L1011.5,972.69 L1012.0,972.68 L1012.5,972.60 L1013.0,972.49 L1013.5,972.42 L1014.0,972.39 L1014.5,972.32 L1015.0,972.21 L1015.5,972.16 L1016.0,972.19 L1016.5,972.27 L1017.0,972.37 L1017.5,972.44 L1018.0,972.46 L1018.5,972.44 L1019.0,972.34 L1019.5,972.23 L1020.0,972.16 L1020.5,972.17 L1021.0,972.30 L1021.5,972.51 L1022.0,972.77 L1022.5,972.99 L1023.0,973.08 L1023.5,973.01 L1024.0,972.86 L1024.5,972.77 L1025.0,972.81 L1025.5,972.93 L1026.0,973.05 L1026.5,973.11 L1027.0,973.13 L1027.5,973.14 L1028.0,973.10 L1028.5,973.03 L1029.0,972.96 L1029.5,972.93 L1030.0,972.93 L1030.5,972.97 L1031.0,973.02 L1031.5,973.05 L1032.0,973.02 L1032.5,972.99 L1033.0,972.98 L1033.5,972.96 L1034.0,972.87 L1034.5,972.70 L1035.0,972.57 L1035.5,972.61 L1036.0,972.81 L1036.5,973.03 L1037.0,973.08 L1037.5,972.99 L1038.0,972.93 L1038.5,972.97 L1039.0,973.05 L1039.5,973.10 L1040.0,973.04 L1040.5,972.89 L1041.0,972.74 L1041.5,972.61 L1042.0,972.47 L1042.5,972.41 L1043.0,972.47 L1043.5,972.56 L1044.0,972.64 L1044.5,972.73 L1045.0,972.83 L1045.5,972.98 L1046.0,973.16 L1046.5,973.25 L1047.0,973.21 L1047.5,973.09 L1048.0,972.97 L1048.5,972.86 L1049.0,972.84 L1049.5,972.89 L1050.0,972.96 L1050.5,972.99 L1051.0,972.96 L1051.5,972.88 L1052.0,972.77 L1052.5,972.69 L1053.0,972.64 L1053.5,972.61 L1054.0,972.61 L1054.5,972.68 L1055.0,972.85 L1055.5,973.08 L1056.0,973.28 L1056.5,973.39 L1057.0,973.43 L1057.5,973.38 L1058.0,973.31 L1058.5,973.24 L1059.0,973.17 L1059.5,973.14 L1060.0,973.20 L1060.5,973.31 L1061.0,973.33 L1061.5,973.24 L1062.0,973.12 L1062.5,973.05 L1063.0,973.03 L1063.5,973.06 L1064.0,973.12 L1064.5,973.17 L1065.0,973.13 L1065.5,973.01 L1066.0,972.82 L1066.5,972.65 L1067.0,972.60 L1067.5,972.65 L1068.0,972.70 L1068.5,972.70 L1069.0,972.67 L1069.5,972.73 L1070.0,972.85 L1070.5,972.92 L1071.0,972.90 L1071.5,972.83 L1072.0,972.76 L1072.5,972.74 L1073.0,972.75 L1073.5,972.75 L1074.0,972.75 L1074.5,972.81 L1075.0,972.90 L1075.5,972.99 L1076.0,972.98 L1076.5,972.89 L1077.0,972.82 L1077.5,972.82 L1078.0,972.90 L1078.5,973.06 L1079.0,973.21 L1079.5,973.21 L1080.0,973.13 L1080.5,973.10 L1081.0,973.14 L1081.5,973.18 L1082.0,973.13 L1082.5,972.96 L1083.0,972.70 L1083.5,972.53 L1084.0,972.50 L1084.5,972.50 L1085.0,972.51 L1085.5,972.58 L1086.0,972.69 L1086.5,972.82 L1087.0,972.97 L1087.5,973.11 L1088.0,973.17 L1088.5,973.16 L1089.0,973.12 L1089.5,973.12 L1090.0,973.17 L1090.5,973.20 L1091.0,973.19 L1091.5,973.15 L1092.0,973.17 L1092.5,973.33 L1093.0,973.54 L1093.5,973.60 L1094.0,973.47 L1094.5,973.21 L1095.0,972.98 L1095.5,972.96 L1096.0,973.16 L1096.5,973.35 L1097.0,973.35 L1097.5,973.15 L1098.0,972.88 L1098.5,972.67 L1099.0,972.62 L1099.5,972.68 L1100.0,972.77 L1100.5,972.85 L1101.0,972.94 L1101.5,973.01 L1102.0,973.02 L1102.5,972.97 L1103.0,972.87 L1103.5,972.78 L1104.0,972.73 L1104.5,972.73 L1105.0,972.80 L1105.5,972.91 L1106.0,973.02 L1106.5,973.07 L1107.0,973.11 L1107.5,973.17 L1108.0,973.26 L1108.5,973.34 L1109.0,973.29 L1109.5,973.12 L1110.0,973.01 L1110.5,973.08 L1111.0,973.33 L1111.5,973.57 L1112.0,973.61 L1112.5,973.47 L1113.0,973.29 L1113.5,973.17 L1114.0,973.10 L1114.5,973.12 L1115.0,973.20 L1115.5,973.22 L1116.0,973.16 L1116.5,973.06 L1117.0,972.90 L1117.5,972.76 L1118.0,972.77 L1118.5,972.85 L1119.0,973.01 L1119.5,973.25 L1120.0,973.44 L1120.5,973.47 L1121.0,973.37 L1121.5,973.19 L1122.0,973.01 L1122.5,972.94 L1123.0,972.96 L1123.5,973.04 L1124.0,973.20 L1124.5,973.41 L1125.0,973.59 L1125.5,973.71 L1126.0,973.74 L1126.5,973.72 L1127.0,973.71 L1127.5,973.72 L1128.0,973.66 L1128.5,973.49 L1129.0,973.24 L1129.5,973.04 L1130.0,973.01 L1130.5,973.15 L1131.0,973.33 L1131.5,973.41 L1132.0,973.35 L1132.5,973.18 L1133.0,973.01 L1133.5,972.91 L1134.0,972.84 L1134.5,972.85 L1135.0,972.92 L1135.5,972.98 L1136.0,972.98 L1136.5,972.96 L1137.0,972.98 L1137.5,973.08 L1138.0,973.27 L1138.5,973.46 L1139.0,973.51 L1139.5,973.43 L1140.0,973.39 L1140.5,973.42 L1141.0,973.46 L1141.5,973.50 L1142.0,973.51 L1142.5,973.52 L1143.0,973.60 L1143.5,973.71 L1144.0,973.70 L1144.5,973.58 L1145.0,973.49 L1145.5,973.38 L1146.0,973.25 L1146.5,973.11 L1147.0,973.05 L1147.5,973.14 L1148.0,973.35 L1148.5,973.54 L1149.0,973.62 L1149.5,973.65 L1150.0,973.69 L1150.5,973.76 L1151.0,973.78 L1151.5,973.70 L1152.0,973.58 L1152.5,973.46 L1153.0,973.37 L1153.5,973.32 L1154.0,973.32 L1154.5,973.38 L1155.0,973.48 L1155.5,973.56 L1156.0,973.53 L1156.5,973.45 L1157.0,973.38 L1157.5,973.40 L1158.0,973.52 L1158.5,973.65 L1159.0,973.67 L1159.5,973.58 L1160.0,973.42 L1160.5,973.31 L1161.0,973.28 L1161.5,973.35 L1162.0,973.48 L1162.5,973.54 L1163.0,973.45 L1163.5,973.26 L1164.0,973.08 L1164.5,973.09 L1165.0,973.33 L1165.5,973.64 L1166.0,973.79 L1166.5,973.74 L1167.0,973.62 L1167.5,973.56 L1168.0,973.63 L1168.5,973.72 L1169.0,973.74 L1169.5,973.68 L1170.0,973.62 L1170.5,973.63 L1171.0,973.68 L1171.5,973.66 L1172.0,973.55 L1172.5,973.40 L1173.0,973.29 L1173.5,973.32 L1174.0,973.41 L1174.5,973.49 L1175.0,973.56 L1175.5,973.62 L1176.0,973.73 L1176.5,973.87 L1177.0,973.98 L1177.5,974.01 L1178.0,974.04 L1178.5,974.02 L1179.0,973.92 L1179.5,973.80 L1180.0,973.68 L1180.5,973.56 L1181.0,973.41 L1181.5,973.24 L1182.0,973.07 L1182.5,973.01 L1183.0,973.08 L1183.5,973.21 L1184.0,973.40 L1184.5,973.54 L1185.0,973.62 L1185.5,973.60 L1186.0,973.47 L1186.5,973.28 L1187.0,973.16 L1187.5,973.17 L1188.0,973.23 L1188.5,973.28 L1189.0,973.28 L1189.5,973.25 L1190.0,973.30 L1190.5,973.50 L1191.0,973.76 L1191.5,973.88 L1192.0,973.76 L1192.5,973.45 L1193.0,973.13 L1193.5,973.01 L1194.0,973.10 L1194.5,973.28 L1195.0,973.43 L1195.5,973.54 L1196.0,973.64 L1196.5,973.71 L1197.0,973.72 L1197.5,973.66 L1198.0,973.58 L1198.5,973.50 L1199.0,973.42 L1199.5,973.29 L1200.0,973.15 L1200.5,973.19 L1201.0,973.43 L1201.5,973.75 L1202.0,973.99 L1202.5,974.04 L1203.0,973.90 L1203.5,973.71 L1204.0,973.59 L1204.5,973.56 L1205.0,973.62 L1205.5,973.70 L1206.0,973.74 L1206.5,973.74 L1207.0,973.73 L1207.5,973.75 L1208.0,973.83 L1208.5,973.93 L1209.0,974.01 L1209.5,974.03 L1210.0,973.96 L1210.5,973.93 L1211.0,974.06 L1211.5,974.29 L1212.0,974.46 L1212.5,974.42 L1213.0,974.17 L1213.5,973.85 L1214.0,973.67 L1214.5,973.66 L1215.0,973.75 L1215.5,973.78 L1216.0,973.71 L1216.5,973.62 L1217.0,973.58 L1217.5,973.61 L1218.0,973.72 L1218.5,973.86 L1219.0,973.93 L1219.5,973.90 L1220.0,973.84 L1220.5,973.87 L1221.0,974.06 L1221.5,974.32 L1222.0,974.45 L1222.5,974.38 L1223.0,974.22 L1223.5,974.12 L1224.0,974.20 L1224.5,974.38 L1225.0,974.52 L1225.5,974.59 L1226.0,974.63 L1226.5,974.62 L1227.0,974.57 L1227.5,974.53 L1228.0,974.43 L1228.5,974.29 L1229.0,974.18 L1229.5,974.11 L1230.0,974.02 L1230.5,973.90 L1231.0,973.83 L1231.5,973.92 L1232.0,974.22 L1232.5,974.60 L1233.0,974.88 L1233.5,974.90 L1234.0,974.73 L1234.5,974.52 L1235.0,974.33 L1235.5,974.18 L1236.0,974.11 L1236.5,974.09 L1237.0,974.11 L1237.5,974.17 L1238.0,974.27 L1238.5,974.39 L1239.0,974.51 L1239.5,974.59 L1240.0,974.58 L1240.5,974.52 L1241.0,974.43 L1241.5,974.39 L1242.0,974.43 L1242.5,974.57 L1243.0,974.72 L1243.5,974.76 L1244.0,974.66 L1244.5,974.49 L1245.0,974.39 L1245.5,974.38 L1246.0,974.45 L1246.5,974.55 L1247.0,974.61 L1247.5,974.65 L1248.0,974.73 L1248.5,974.82 L1249.0,974.89 L1249.5,974.92 L1250.0,974.91 L1250.5,974.87 L1251.0,974.82 L1251.5,974.77 L1252.0,974.68 L1252.5,974.57 L1253.0,974.53 L1253.5,974.58 L1254.0,974.68 L1254.5,974.66 L1255.0,974.48 L1255.5,974.23 L1256.0,974.06 L1256.5,974.12 L1257.0,974.39 L1257.5,974.73 L1258.0,974.93 L1258.5,974.98 L1259.0,974.91 L1259.5,974.79 L1260.0,974.70 L1260.5,974.67 L1261.0,974.72 L1261.5,974.86 L1262.0,975.03 L1262.5,975.15 L1263.0,975.17 L1263.5,975.11 L1264.0,975.09 L1264.5,975.14 L1265.0,975.20 L1265.5,975.19 L1266.0,975.13 L1266.5,975.10 L1267.0,975.11 L1267.5,975.19 L1268.0,975.32 L1268.5,975.46 L1269.0,975.54 L1269.5,975.60 L1270.0,975.67 L1270.5,975.69 L1271.0,975.70 L1271.5,975.63 L1272.0,975.42 L1272.5,975.14 L1273.0,974.98 L1273.5,975.02 L1274.0,975.14 L1274.5,975.20 L1275.0,975.15 L1275.5,975.01 L1276.0,974.93 L1276.5,975.05 L1277.0,975.38 L1277.5,975.82 L1278.0,976.18 L1278.5,976.28 L1279.0,976.04 L1279.5,975.55 L1280.0,975.14 L1280.5,975.04 L1281.0,975.30 L1281.5,975.75 L1282.0,976.19 L1282.5,976.48 L1283.0,976.67 L1283.5,976.57 L1284.0,977.78 L1284.5,979.73 L1285.0,981.96 L1285.5,984.00 L1286.0,985.95 L1286.5,988.16 L1287.0,990.55 L1287.5,993.05 L1288.0,995.58 L1288.5,998.05 L1289.0,1000.39 L1289.5,1002.53 L1290.0,1004.38 L1290.5,1005.87 L1291.0,1006.92 L1291.5,1007.57 L1292.0,1007.16 L1292.5,1005.44 L1293.0,1003.09 L1293.5,1001.00 L1294.0,999.37 L1294.5,997.78 L1295.0,996.25 L1295.5,994.77 L1296.0,993.35 L1296.5,992.00 L1297.0,990.70 L1297.5,989.44 L1298.0,988.22 L1298.5,987.07 L1299.0,985.99 L1299.5,985.00 L1300.0,984.09 L1300.5,983.24 L1301.0,982.44 L1301.5,981.68 L1302.0,980.94 L1302.5,980.22 L1303.0,979.50 L1303.5,978.77 L1304.0,978.04 L1304.5,977.32 L1305.0,976.64 L1305.5,976.03 L1306.0,975.50 L1306.5,975.01 L1307.0,974.53 L1307.5,974.07 L1308.0,973.66 L1308.5,973.31 L1309.0,973.44 L1309.5,973.22 L1310.0,972.88 L1310.5,972.52 L1311.0,972.32 L1311.5,972.31 L1312.0,972.38 L1312.5,972.44 L1313.0,972.39 L1313.5,972.27 L1314.0,972.17 L1314.5,972.11 L1315.0,972.04 L1315.5,971.98 L1316.0,972.03 L1316.5,972.25 L1317.0,972.51 L1317.5,972.70 L1318.0,972.78 L1318.5,972.79 L1319.0,972.82 L1319.5,972.87 L1320.0,972.85 L1320.5,972.72 L1321.0,972.56 L1321.5,972.43 L1322.0,972.35 L1322.5,972.25 L1323.0,972.06 L1323.5,971.81 L1324.0,971.61 L1324.5,971.57 L1325.0,971.67 L1325.5,971.82 L1326.0,972.00 L1326.5,972.18 L1327.0,972.38 L1327.5,972.62 L1328.0,972.84 L1328.5,972.90 L1329.0,972.85 L1329.5,972.76 L1330.0,972.70 L1330.5,972.68 L1331.0,972.66 L1331.5,972.53 L1332.0,972.34 L1332.5,972.18 L1333.0,972.09 L1333.5,972.04 L1334.0,972.04 L1334.5,972.09 L1335.0,972.21 L1335.5,972.34 L1336.0,972.37 L1336.5,972.29 L1337.0,972.17 L1337.5,972.13 L1338.0,972.22 L1338.5,972.39 L1339.0,972.55 L1339.5,972.64 L1340.0,972.68 L1340.5,972.70 L1341.0,972.70 L1341.5,972.75 L1342.0,972.82 L1342.5,972.85 L1343.0,972.85 L1343.5,972.85 L1344.0,972.88 L1344.5,972.95 L1345.0,973.04 L1345.5,973.08 L1346.0,973.06 L1346.5,973.03 L1347.0,972.94 L1347.5,972.80 L1348.0,972.67 L1348.5,972.58 L1349.0,972.53 L1349.5,972.50 L1350.0,972.50 L1350.5,972.57 L1351.0,972.70 L1351.5,972.79 L1352.0,972.78 L1352.5,972.73 L1353.0,972.71 L1353.5,972.70 L1354.0,972.62 L1354.5,972.46 L1355.0,972.31 L1355.5,972.24 L1356.0,972.24 L1356.5,972.33 L1357.0,972.43 L1357.5,972.55 L1358.0,972.67 L1358.5,972.78 L1359.0,972.90 L1359.5,973.01 L1360.0,973.13 L1360.5,973.16 L1361.0,973.10 L1361.5,973.00 L1362.0,972.92 L1362.5,972.80 L1363.0,972.67 L1363.5,972.63 L1364.0,972.66 L1364.5,972.71 L1365.0,972.72 L1365.5,972.61 L1366.0,972.41 L1366.5,972.26 L1367.0,972.24 L1367.5,972.34 L1368.0,972.55 L1368.5,972.75 L1369.0,972.88 L1369.5,972.92 L1370.0,972.87 L1370.5,972.76 L1371.0,972.69 L1371.5,972.69 L1372.0,972.76 L1372.5,972.84 L1373.0,972.82 L1373.5,972.71 L1374.0,972.60 L1374.5,972.58 L1375.0,972.64 L1375.5,972.71 L1376.0,972.78 L1376.5,972.84 L1377.0,972.90 L1377.5,972.96 L1378.0,972.97 L1378.5,972.91 L1379.0,972.82 L1379.5,972.73 L1380.0,972.63 L1380.5,972.62 L1381.0,972.76 L1381.5,972.97 L1382.0,973.18 L1382.5,973.30 L1383.0,973.29 L1383.5,973.21 L1384.0,973.14 L1384.5,973.14 L1385.0,973.19 L1385.5,973.19 L1386.0,973.13 L1386.5,973.01 L1387.0,972.90 L1387.5,972.79 L1388.0,972.70 L1388.5,972.68 L1389.0,972.70 L1389.5,972.74" fill="none" stroke="#0000ff" stroke-width="2.3" stroke-linejoin="round"/>
<path d="M100.5,970.26 L101.0,970.37 L101.5,970.42 L102.0,970.39 L102.5,970.28 L103.0,970.14 L103.5,970.06 L104.0,970.04 L104.5,970.03 L105.0,970.00 L105.5,969.95 L106.0,969.89 L106.5,969.88 L107.0,969.87 L107.5,969.81 L108.0,969.75 L108.5,969.75 L109.0,969.78 L109.5,969.86 L110.0,969.96 L110.5,970.02 L111.0,970.01 L111.5,969.97 L112.0,969.93 L112.5,969.92 L113.0,969.92 L113.5,969.93 L114.0,969.94 L114.5,969.99 L115.0,970.07 L115.5,970.13 L116.0,970.12 L116.5,970.07 L117.0,970.03 L117.5,970.00 L118.0,969.96 L118.5,969.89 L119.0,969.82 L119.5,969.79 L120.0,969.80 L120.5,969.84 L121.0,969.86 L121.5,969.84 L122.0,969.81 L122.5,969.81 L123.0,969.87 L123.5,969.96 L124.0,969.98 L124.5,969.89 L125.0,969.78 L125.5,969.77 L126.0,969.91 L126.5,970.10 L127.0,970.20 L127.5,970.15 L128.0,969.99 L128.5,969.84 L129.0,969.83 L129.5,969.94 L130.0,970.08 L130.5,970.20 L131.0,970.27 L131.5,970.28 L132.0,970.25 L132.5,970.14 L133.0,969.97 L133.5,969.86 L134.0,969.88 L134.5,970.00 L135.0,970.10 L135.5,970.10 L136.0,970.00 L136.5,969.93 L137.0,969.96 L137.5,970.02 L138.0,970.07 L138.5,970.09 L139.0,970.08 L139.5,970.04 L140.0,969.97 L140.5,969.91 L141.0,969.90 L141.5,969.92 L142.0,969.94 L142.5,969.95 L143.0,969.94 L143.5,969.91 L144.0,969.86 L144.5,969.76 L145.0,969.60 L145.5,969.47 L146.0,969.44 L146.5,969.50 L147.0,969.65 L147.5,969.87 L148.0,970.09 L148.5,970.17 L149.0,970.07 L149.5,969.82 L150.0,969.53 L150.5,969.32 L151.0,969.22 L151.5,969.18 L152.0,969.18 L152.5,969.16 L153.0,969.08 L153.5,968.99 L154.0,969.09 L154.5,968.44 L155.0,967.72 L155.5,967.31 L156.0,967.38 L156.5,967.64 L157.0,968.39 L157.5,969.08 L158.0,969.59 L158.5,969.66 L159.0,969.65 L159.5,969.53 L160.0,969.34 L160.5,969.21 L161.0,969.22 L161.5,969.31 L162.0,969.43 L162.5,969.53 L163.0,969.57 L163.5,969.54 L164.0,969.49 L164.5,969.46 L165.0,969.43 L165.5,969.45 L166.0,969.53 L166.5,969.65 L167.0,969.77 L167.5,969.81 L168.0,969.77 L168.5,969.63 L169.0,969.47 L169.5,969.38 L170.0,969.37 L170.5,969.44 L171.0,969.52 L171.5,969.58 L172.0,969.59 L172.5,969.61 L173.0,969.62 L173.5,969.61 L174.0,969.62 L174.5,969.66 L175.0,969.66 L175.5,969.60 L176.0,969.44 L176.5,969.25 L177.0,969.17 L177.5,969.21 L178.0,969.29 L178.5,969.38 L179.0,969.46 L179.5,969.53 L180.0,969.60 L180.5,969.68 L181.0,969.73 L181.5,969.73 L182.0,969.67 L182.5,969.53 L183.0,969.33 L183.5,969.19 L184.0,969.19 L184.5,969.30 L185.0,969.47 L185.5,969.61 L186.0,969.66 L186.5,969.58 L187.0,969.41 L187.5,969.22 L188.0,969.09 L188.5,969.08 L189.0,969.13 L189.5,969.18 L190.0,969.18 L190.5,969.19 L191.0,969.24 L191.5,969.31 L192.0,969.40 L192.5,969.45 L193.0,969.43 L193.5,969.43 L194.0,969.49 L194.5,969.57 L195.0,969.69 L195.5,969.81 L196.0,969.87 L196.5,969.87 L197.0,969.85 L197.5,969.78 L198.0,969.65 L198.5,969.53 L199.0,969.45 L199.5,969.38 L200.0,969.36 L200.5,969.40 L201.0,969.38 L201.5,969.44 L202.0,969.72 L202.5,970.16 L203.0,970.68 L203.5,971.29 L204.0,972.42 L204.5,973.53 L205.0,974.09 L205.5,972.96 L206.0,971.40 L206.5,970.00 L207.0,968.90 L207.5,967.83 L208.0,966.91 L208.5,966.30 L209.0,965.90 L209.5,965.54 L210.0,965.34 L210.5,965.23 L211.0,965.20 L211.5,965.22 L212.0,965.24 L212.5,965.29 L213.0,965.40 L213.5,965.61 L214.0,965.96 L214.5,966.55 L215.0,967.21 L215.5,967.82 L216.0,968.20 L216.5,967.85 L217.0,968.21 L217.5,968.60 L218.0,968.89 L218.5,969.05 L219.0,969.10 L219.5,969.11 L220.0,969.16 L220.5,969.31 L221.0,969.48 L221.5,969.57 L222.0,969.50 L222.5,969.31 L223.0,969.08 L223.5,968.94 L224.0,968.94 L224.5,969.03 L225.0,969.14 L225.5,969.21 L226.0,969.17 L226.5,969.07 L227.0,969.00 L227.5,969.05 L228.0,969.20 L228.5,969.36 L229.0,969.48 L229.5,969.54 L230.0,969.51 L230.5,969.38 L231.0,969.22 L231.5,969.14 L232.0,969.22 L232.5,969.42 L233.0,969.60 L233.5,969.65 L234.0,969.55 L234.5,969.43 L235.0,969.39 L235.5,969.42 L236.0,969.47 L236.5,969.49 L237.0,969.49 L237.5,969.47 L238.0,969.48 L238.5,969.53 L239.0,969.59 L239.5,969.64 L240.0,969.71 L240.5,969.77 L241.0,969.77 L241.5,969.73 L242.0,969.61 L242.5,969.41 L243.0,969.22 L243.5,969.12 L244.0,969.10 L244.5,969.16 L245.0,969.22 L245.5,969.24 L246.0,969.24 L246.5,969.28 L247.0,969.40 L247.5,969.58 L248.0,969.75 L248.5,969.83 L249.0,969.79 L249.5,969.71 L250.0,969.61 L250.5,969.54 L251.0,969.49 L251.5,969.46 L252.0,969.45 L252.5,969.47 L253.0,969.48 L253.5,969.46 L254.0,969.41 L254.5,969.34 L255.0,969.29 L255.5,969.29 L256.0,969.26 L256.5,969.22 L257.0,969.20 L257.5,969.24 L258.0,969.31 L258.5,969.42 L259.0,969.52 L259.5,969.62 L260.0,969.74 L260.5,969.81 L261.0,969.79 L261.5,969.68 L262.0,969.55 L262.5,969.45 L263.0,969.42 L263.5,969.43 L264.0,969.43 L264.5,969.43 L265.0,969.40 L265.5,969.38 L266.0,969.40 L266.5,969.45 L267.0,969.48 L267.5,969.44 L268.0,969.37 L268.5,969.30 L269.0,969.28 L269.5,969.33 L270.0,969.41 L270.5,969.48 L271.0,969.56 L271.5,969.63 L272.0,969.67 L272.5,969.66 L273.0,969.58 L273.5,969.48 L274.0,969.42 L274.5,969.50 L275.0,969.71 L275.5,969.94 L276.0,970.05 L276.5,970.00 L277.0,969.86 L277.5,969.73 L278.0,969.72 L278.5,969.78 L279.0,969.79 L279.5,969.73 L280.0,969.67 L280.5,969.64 L281.0,969.67 L281.5,969.73 L282.0,969.74 L282.5,969.67 L283.0,969.55 L283.5,969.43 L284.0,969.33 L284.5,969.29 L285.0,969.29 L285.5,969.32 L286.0,969.38 L286.5,969.46 L287.0,969.51 L287.5,969.50 L288.0,969.42 L288.5,969.32 L289.0,969.29 L289.5,969.37 L290.0,969.52 L290.5,969.71 L291.0,969.87 L291.5,969.95 L292.0,969.94 L292.5,969.86 L293.0,969.80 L293.5,969.78 L294.0,969.77 L294.5,969.77 L295.0,969.77 L295.5,969.80 L296.0,969.82 L296.5,969.77 L297.0,969.65 L297.5,969.58 L298.0,969.57 L298.5,969.60 L299.0,969.62 L299.5,969.55 L300.0,969.39 L300.5,969.20 L301.0,969.06 L301.5,969.02 L302.0,969.12 L302.5,969.33 L303.0,969.53 L303.5,969.62 L304.0,969.58 L304.5,969.48 L305.0,969.37 L305.5,969.27 L306.0,969.25 L306.5,969.30 L307.0,969.36 L307.5,969.37 L308.0,969.42 L308.5,969.49 L309.0,969.55 L309.5,969.56 L310.0,969.54 L310.5,969.54 L311.0,969.57 L311.5,969.64 L312.0,969.70 L312.5,969.66 L313.0,969.56 L313.5,969.47 L314.0,969.45 L314.5,969.50 L315.0,969.63 L315.5,969.78 L316.0,969.86 L316.5,969.90 L317.0,969.88 L317.5,969.78 L318.0,969.64 L318.5,969.50 L319.0,969.42 L319.5,969.41 L320.0,969.45 L320.5,969.50 L321.0,969.54 L321.5,969.59 L322.0,969.60 L322.5,969.64 L323.0,969.75 L323.5,969.87 L324.0,969.97 L324.5,970.03 L325.0,970.03 L325.5,969.97 L326.0,969.90 L326.5,969.83 L327.0,969.76 L327.5,969.76 L328.0,969.82 L328.5,969.85 L329.0,969.82 L329.5,969.74 L330.0,969.65 L330.5,969.59 L331.0,969.57 L331.5,969.58 L332.0,969.66 L332.5,969.72 L333.0,969.75 L333.5,969.76 L334.0,969.75 L334.5,969.74 L335.0,969.78 L335.5,969.83 L336.0,969.84 L336.5,969.82 L337.0,969.83 L337.5,969.85 L338.0,969.84 L338.5,969.80 L339.0,969.76 L339.5,969.67 L340.0,969.63 L340.5,969.69 L341.0,969.81 L341.5,969.98 L342.0,970.14 L342.5,970.21 L343.0,970.17 L343.5,970.12 L344.0,970.11 L344.5,970.13 L345.0,970.14 L345.5,970.12 L346.0,970.11 L346.5,970.11 L347.0,970.07 L347.5,969.98 L348.0,969.87 L348.5,969.76 L349.0,969.71 L349.5,969.69 L350.0,969.69 L350.5,969.73 L351.0,969.84 L351.5,970.00 L352.0,970.15 L352.5,970.29 L353.0,970.42 L353.5,970.52 L354.0,970.53 L354.5,970.36 L355.0,970.05 L355.5,969.75 L356.0,969.63 L356.5,969.73 L357.0,969.92 L357.5,970.10 L358.0,970.18 L358.5,970.13 L359.0,970.00 L359.5,969.86 L360.0,969.77 L360.5,969.78 L361.0,969.87 L361.5,969.95 L362.0,970.00 L362.5,970.05 L363.0,970.13 L363.5,970.25 L364.0,970.34 L364.5,970.33 L365.0,970.18 L365.5,970.00 L366.0,969.90 L366.5,969.93 L367.0,970.04 L367.5,970.13 L368.0,970.14 L368.5,970.07 L369.0,970.00 L369.5,970.00 L370.0,970.08 L370.5,970.17 L371.0,970.20 L371.5,970.12 L372.0,969.98 L372.5,969.90 L373.0,969.95 L373.5,970.08 L374.0,970.17 L374.5,970.15 L375.0,970.07 L375.5,970.05 L376.0,970.15 L376.5,970.31 L377.0,970.43 L377.5,970.44 L378.0,970.37 L378.5,970.25 L379.0,970.11 L379.5,969.99 L380.0,969.93 L380.5,969.94 L381.0,970.04 L381.5,970.20 L382.0,970.35 L382.5,970.42 L383.0,970.43 L383.5,970.38 L384.0,970.32 L384.5,970.31 L385.0,970.35 L385.5,970.38 L386.0,970.34 L386.5,970.20 L387.0,970.06 L387.5,970.00 L388.0,970.09 L388.5,970.27 L389.0,970.46 L389.5,970.58 L390.0,970.63 L390.5,970.64 L391.0,970.59 L391.5,970.49 L392.0,970.36 L392.5,970.23 L393.0,970.20 L393.5,970.25 L394.0,970.35 L394.5,970.46 L395.0,970.53 L395.5,970.50 L396.0,970.41 L396.5,970.30 L397.0,970.24 L397.5,970.27 L398.0,970.39 L398.5,970.54 L399.0,970.63 L399.5,970.60 L400.0,970.46 L400.5,970.28 L401.0,970.16 L401.5,970.17 L402.0,970.29 L402.5,970.47 L403.0,970.63 L403.5,970.73 L404.0,970.75 L404.5,970.70 L405.0,970.65 L405.5,970.61 L406.0,970.58 L406.5,970.60 L407.0,970.66 L407.5,970.72 L408.0,970.71 L408.5,970.60 L409.0,970.42 L409.5,970.29 L410.0,970.31 L410.5,970.45 L411.0,970.66 L411.5,970.85 L412.0,970.94 L412.5,970.94 L413.0,970.87 L413.5,970.78 L414.0,970.71 L414.5,970.71 L415.0,970.74 L415.5,970.77 L416.0,970.82 L416.5,970.86 L417.0,970.88 L417.5,970.87 L418.0,970.87 L418.5,970.88 L419.0,970.88 L419.5,970.84 L420.0,970.73 L420.5,970.56 L421.0,970.40 L421.5,970.33 L422.0,970.33 L422.5,970.33 L423.0,970.34 L423.5,970.38 L424.0,970.44 L424.5,970.52 L425.0,970.59 L425.5,970.59 L426.0,970.50 L426.5,970.40 L427.0,970.35 L427.5,970.41 L428.0,970.58 L428.5,970.74 L429.0,970.77 L429.5,970.64 L430.0,970.46 L430.5,970.33 L431.0,970.27 L431.5,970.30 L432.0,970.39 L432.5,970.51 L433.0,970.62 L433.5,970.64 L434.0,970.54 L434.5,970.43 L435.0,970.44 L435.5,970.57 L436.0,970.74 L436.5,970.87 L437.0,970.91 L437.5,970.92 L438.0,970.93 L438.5,970.93 L439.0,970.89 L439.5,970.79 L440.0,970.65 L440.5,970.50 L441.0,970.43 L441.5,970.44 L442.0,970.52 L442.5,970.63 L443.0,970.74 L443.5,970.78 L444.0,970.79 L444.5,970.83 L445.0,970.90 L445.5,970.95 L446.0,970.91 L446.5,970.79 L447.0,970.67 L447.5,970.65 L448.0,970.75 L448.5,970.85 L449.0,970.87 L449.5,970.84 L450.0,970.83 L450.5,970.87 L451.0,970.94 L451.5,970.93 L452.0,970.81 L452.5,970.63 L453.0,970.47 L453.5,970.42 L454.0,970.53 L454.5,970.75 L455.0,970.93 L455.5,970.99 L456.0,970.92 L456.5,970.81 L457.0,970.78 L457.5,970.86 L458.0,970.97 L458.5,970.98 L459.0,970.84 L459.5,970.64 L460.0,970.48 L460.5,970.47 L461.0,970.56 L461.5,970.68 L462.0,970.77 L462.5,970.83 L463.0,970.85 L463.5,970.83 L464.0,970.78 L464.5,970.71 L465.0,970.67 L465.5,970.75 L466.0,970.88 L466.5,970.95 L467.0,970.96 L467.5,970.91 L468.0,970.85 L468.5,970.83 L469.0,970.87 L469.5,970.92 L470.0,970.95 L470.5,970.96 L471.0,970.96 L471.5,970.95 L472.0,970.95 L472.5,971.00 L473.0,971.05 L473.5,971.08 L474.0,971.06 L474.5,970.97 L475.0,970.84 L475.5,970.73 L476.0,970.68 L476.5,970.69 L477.0,970.72 L477.5,970.78 L478.0,970.83 L478.5,970.87 L479.0,970.95 L479.5,971.03 L480.0,971.09 L480.5,971.16 L481.0,971.19 L481.5,971.19 L482.0,971.19 L482.5,971.19 L483.0,971.16 L483.5,971.13 L484.0,971.07 L484.5,971.01 L485.0,971.05 L485.5,971.16 L486.0,971.24 L486.5,971.29 L487.0,971.27 L487.5,971.18 L488.0,971.09 L488.5,971.05 L489.0,971.05 L489.5,971.10 L490.0,971.21 L490.5,971.35 L491.0,971.43 L491.5,971.41 L492.0,971.30 L492.5,971.16 L493.0,971.06 L493.5,971.03 L494.0,971.04 L494.5,971.07 L495.0,971.16 L495.5,971.31 L496.0,971.44 L496.5,971.49 L497.0,971.45 L497.5,971.38 L498.0,971.34 L498.5,971.35 L499.0,971.34 L499.5,971.26 L500.0,971.17 L500.5,971.11 L501.0,971.10 L501.5,971.13 L502.0,971.20 L502.5,971.29 L503.0,971.37 L503.5,971.41 L504.0,971.39 L504.5,971.34 L505.0,971.28 L505.5,971.25 L506.0,971.26 L506.5,971.28 L507.0,971.24 L507.5,971.15 L508.0,971.07 L508.5,971.02 L509.0,970.99 L509.5,970.94 L510.0,970.89 L510.5,970.90 L511.0,970.96 L511.5,971.07 L512.0,971.12 L512.5,971.06 L513.0,970.99 L513.5,971.00 L514.0,971.11 L514.5,971.25 L515.0,971.36 L515.5,971.38 L516.0,971.34 L516.5,971.33 L517.0,971.41 L517.5,971.52 L518.0,971.58 L518.5,971.53 L519.0,971.42 L519.5,971.32 L520.0,971.26 L520.5,971.23 L521.0,971.19 L521.5,971.19 L522.0,971.23 L522.5,971.28 L523.0,971.31 L523.5,971.30 L524.0,971.26 L524.5,971.23 L525.0,971.27 L525.5,971.35 L526.0,971.39 L526.5,971.38 L527.0,971.37 L527.5,971.39 L528.0,971.41 L528.5,971.42 L529.0,971.40 L529.5,971.36 L530.0,971.40 L530.5,971.49 L531.0,971.53 L531.5,971.49 L532.0,971.49 L532.5,971.54 L533.0,971.53 L533.5,971.47 L534.0,971.40 L534.5,971.35 L535.0,971.33 L535.5,971.34 L536.0,971.32 L536.5,971.29 L537.0,971.31 L537.5,971.33 L538.0,971.33 L538.5,971.33 L539.0,971.33 L539.5,971.33 L540.0,971.36 L540.5,971.44 L541.0,971.54 L541.5,971.62 L542.0,971.67 L542.5,971.68 L543.0,971.70 L543.5,971.76 L544.0,971.87 L544.5,971.95 L545.0,971.95 L545.5,971.87 L546.0,971.77 L546.5,971.68 L547.0,971.61 L547.5,971.51 L548.0,971.35 L548.5,971.23 L549.0,971.26 L549.5,971.40 L550.0,971.55 L550.5,971.62 L551.0,971.60 L551.5,971.57 L552.0,971.57 L552.5,971.56 L553.0,971.47 L553.5,971.32 L554.0,971.14 L554.5,971.03 L555.0,971.04 L555.5,971.19 L556.0,971.41 L556.5,971.60 L557.0,971.68 L557.5,971.67 L558.0,971.62 L558.5,971.60 L559.0,971.60 L559.5,971.60 L560.0,971.57 L560.5,971.53 L561.0,971.53 L561.5,971.60 L562.0,971.74 L562.5,971.82 L563.0,971.78 L563.5,971.61 L564.0,971.41 L564.5,971.25 L565.0,971.19 L565.5,971.23 L566.0,971.33 L566.5,971.42 L567.0,971.48 L567.5,971.50 L568.0,971.48 L568.5,971.44 L569.0,971.46 L569.5,971.56 L570.0,971.69 L570.5,971.80 L571.0,971.83 L571.5,971.74 L572.0,971.61 L572.5,971.54 L573.0,971.53 L573.5,971.58 L574.0,971.69 L574.5,971.79 L575.0,971.80 L575.5,971.69 L576.0,971.51 L576.5,971.41 L577.0,971.48 L577.5,971.66 L578.0,971.76 L578.5,971.72 L579.0,971.61 L579.5,971.53 L580.0,971.52 L580.5,971.58 L581.0,971.66 L581.5,971.71 L582.0,971.68 L582.5,971.57 L583.0,971.44 L583.5,971.38 L584.0,971.42 L584.5,971.52 L585.0,971.60 L585.5,971.64 L586.0,971.67 L586.5,971.71 L587.0,971.71 L587.5,971.66 L588.0,971.59 L588.5,971.53 L589.0,971.48 L589.5,971.48 L590.0,971.55 L590.5,971.70 L591.0,971.89 L591.5,972.01 L592.0,971.97 L592.5,971.82 L593.0,971.67 L593.5,971.64 L594.0,971.73 L594.5,971.90 L595.0,972.03 L595.5,972.05 L596.0,971.99 L596.5,971.92 L597.0,971.89 L597.5,971.91 L598.0,971.96 L598.5,971.98 L599.0,971.93 L599.5,971.82 L600.0,971.72 L600.5,971.66 L601.0,971.62 L601.5,971.64 L602.0,971.74 L602.5,971.84 L603.0,971.89 L603.5,971.90 L604.0,971.88 L604.5,971.88 L605.0,971.95 L605.5,972.00 L606.0,972.03 L606.5,972.09 L607.0,972.17 L607.5,972.18 L608.0,972.10 L608.5,971.97 L609.0,971.90 L609.5,971.93 L610.0,971.99 L610.5,971.97 L611.0,971.89 L611.5,971.82 L612.0,971.76 L612.5,971.70 L613.0,971.64 L613.5,971.59 L614.0,971.57 L614.5,971.58 L615.0,971.63 L615.5,971.68 L616.0,971.70 L616.5,971.69 L617.0,971.68 L617.5,971.67 L618.0,971.64 L618.5,971.59 L619.0,971.53 L619.5,971.50 L620.0,971.57 L620.5,971.71 L621.0,971.83 L621.5,971.90 L622.0,971.99 L622.5,972.11 L623.0,972.23 L623.5,972.22 L624.0,972.10 L624.5,971.95 L625.0,971.88 L625.5,971.90 L626.0,971.94 L626.5,971.94 L627.0,971.91 L627.5,971.93 L628.0,971.98 L628.5,972.01 L629.0,972.02 L629.5,972.00 L630.0,972.02 L630.5,972.11 L631.0,972.23 L631.5,972.32 L632.0,972.31 L632.5,972.16 L633.0,971.98 L633.5,971.87 L634.0,971.86 L634.5,971.89 L635.0,971.88 L635.5,971.83 L636.0,971.84 L636.5,971.94 L637.0,972.05 L637.5,972.11 L638.0,972.11 L638.5,972.09 L639.0,972.14 L639.5,972.21 L640.0,972.23 L640.5,972.23 L641.0,972.22 L641.5,972.22 L642.0,972.24 L642.5,972.26 L643.0,972.26 L643.5,972.22 L644.0,972.15 L644.5,972.06 L645.0,972.06 L645.5,972.21 L646.0,972.45 L646.5,972.62 L647.0,972.59 L647.5,972.41 L648.0,972.17 L648.5,971.98 L649.0,971.85 L649.5,971.75 L650.0,971.70 L650.5,971.77 L651.0,971.99 L651.5,972.24 L652.0,972.41 L652.5,972.41 L653.0,972.24 L653.5,972.02 L654.0,971.85 L654.5,971.84 L655.0,971.92 L655.5,972.02 L656.0,972.10 L656.5,972.14 L657.0,972.18 L657.5,972.22 L658.0,972.22 L658.5,972.15 L659.0,972.06 L659.5,972.04 L660.0,972.05 L660.5,972.06 L661.0,972.06 L661.5,972.05 L662.0,972.09 L662.5,972.19 L663.0,972.32 L663.5,972.44 L664.0,972.54 L664.5,972.56 L665.0,972.46 L665.5,972.30 L666.0,972.18 L666.5,972.21 L667.0,972.39 L667.5,972.62 L668.0,972.74 L668.5,972.72 L669.0,972.61 L669.5,972.47 L670.0,972.33 L670.5,972.23 L671.0,972.15 L671.5,972.09 L672.0,972.07 L672.5,972.06 L673.0,972.06 L673.5,972.07 L674.0,972.08 L674.5,972.07 L675.0,972.04 L675.5,972.04 L676.0,972.06 L676.5,972.10 L677.0,972.08 L677.5,971.99 L678.0,971.89 L678.5,971.89 L679.0,971.94 L679.5,972.03 L680.0,972.07 L680.5,972.03 L681.0,971.98 L681.5,972.00 L682.0,972.09 L682.5,972.18 L683.0,972.27 L683.5,972.29 L684.0,972.19 L684.5,972.04 L685.0,971.92 L685.5,971.89 L686.0,971.98 L686.5,972.15 L687.0,972.26 L687.5,972.20 L688.0,972.01 L688.5,971.83 L689.0,971.74 L689.5,971.81 L690.0,971.95 L690.5,972.08 L691.0,972.18 L691.5,972.31 L692.0,972.42 L692.5,972.43 L693.0,972.33 L693.5,972.16 L694.0,972.00 L694.5,971.94 L695.0,971.97 L695.5,972.05 L696.0,972.14 L696.5,972.23 L697.0,972.30 L697.5,972.29 L698.0,972.17 L698.5,972.02 L699.0,971.91 L699.5,971.93 L700.0,972.05 L700.5,972.17 L701.0,972.19 L701.5,972.16 L702.0,972.13 L702.5,972.10 L703.0,972.08 L703.5,972.06 L704.0,972.03 L704.5,972.01 L705.0,972.00 L705.5,972.00 L706.0,972.04 L706.5,972.15 L707.0,972.31 L707.5,972.42 L708.0,972.45 L708.5,972.38 L709.0,972.25 L709.5,972.18 L710.0,972.23 L710.5,972.37 L711.0,972.43 L711.5,972.36 L712.0,972.24 L712.5,972.18 L713.0,972.20 L713.5,972.27 L714.0,972.33 L714.5,972.32 L715.0,972.27 L715.5,972.23 L716.0,972.18 L716.5,972.16 L717.0,972.23 L717.5,972.35 L718.0,972.38 L718.5,972.30 L719.0,972.18 L719.5,972.08 L720.0,972.06 L720.5,972.07 L721.0,972.03 L721.5,971.93 L722.0,971.89 L722.5,971.99 L723.0,972.16 L723.5,972.29 L724.0,972.34 L724.5,972.32 L725.0,972.25 L725.5,972.24 L726.0,972.31 L726.5,972.41 L727.0,972.48 L727.5,972.48 L728.0,972.38 L728.5,972.19 L729.0,972.06 L729.5,972.10 L730.0,972.28 L730.5,972.53 L731.0,972.69 L731.5,972.68 L732.0,972.51 L732.5,972.32 L733.0,972.20 L733.5,972.17 L734.0,972.18 L734.5,972.15 L735.0,972.04 L735.5,971.88 L736.0,971.71 L736.5,971.64 L737.0,971.71 L737.5,971.89 L738.0,972.09 L738.5,972.29 L739.0,972.43 L739.5,972.48 L740.0,972.51 L740.5,972.49 L741.0,972.44 L741.5,972.37 L742.0,972.26 L742.5,972.11 L743.0,972.01 L743.5,972.01 L744.0,972.07 L744.5,972.16 L745.0,972.27 L745.5,972.37 L746.0,972.50 L746.5,972.59 L747.0,972.58 L747.5,972.47 L748.0,972.33 L748.5,972.22 L749.0,972.17 L749.5,972.21 L750.0,972.26 L750.5,972.26 L751.0,972.27 L751.5,972.31 L752.0,972.39 L752.5,972.48 L753.0,972.49 L753.5,972.38 L754.0,972.22 L754.5,972.13 L755.0,972.14 L755.5,972.22 L756.0,972.31 L756.5,972.33 L757.0,972.28 L757.5,972.25 L758.0,972.27 L758.5,972.29 L759.0,972.26 L759.5,972.18 L760.0,972.11 L760.5,972.15 L761.0,972.27 L761.5,972.36 L762.0,972.32 L762.5,972.17 L763.0,972.01 L763.5,971.96 L764.0,972.03 L764.5,972.13 L765.0,972.19 L765.5,972.20 L766.0,972.19 L766.5,972.14 L767.0,972.07 L767.5,972.00 L768.0,971.93 L768.5,971.91 L769.0,971.98 L769.5,972.09 L770.0,972.16 L770.5,972.22 L771.0,972.31 L771.5,972.39 L772.0,972.44 L772.5,972.41 L773.0,972.29 L773.5,972.18 L774.0,972.14 L774.5,972.17 L775.0,972.19 L775.5,972.14 L776.0,972.02 L776.5,971.92 L777.0,971.94 L777.5,972.06 L778.0,972.20 L778.5,972.30 L779.0,972.29 L779.5,972.17 L780.0,972.10 L780.5,972.15 L781.0,972.25 L781.5,972.35 L782.0,972.40 L782.5,972.37 L783.0,972.31 L783.5,972.33 L784.0,972.40 L784.5,972.47 L785.0,972.51 L785.5,972.52 L786.0,972.53 L786.5,972.61 L787.0,972.72 L787.5,972.75 L788.0,972.67 L788.5,972.55 L789.0,972.50 L789.5,972.50 L790.0,972.48 L790.5,972.44 L791.0,972.40 L791.5,972.41 L792.0,972.51 L792.5,972.65 L793.0,972.77 L793.5,972.85 L794.0,972.90 L794.5,972.91 L795.0,972.92 L795.5,972.96 L796.0,973.00 L796.5,972.93 L797.0,972.79 L797.5,972.63 L798.0,972.58 L798.5,972.65 L799.0,972.77 L799.5,972.86 L800.0,972.91 L800.5,972.91 L801.0,972.85 L801.5,972.78 L802.0,972.76 L802.5,972.74 L803.0,972.73 L803.5,972.71 L804.0,972.67 L804.5,972.57 L805.0,972.48 L805.5,972.44 L806.0,972.47 L806.5,972.60 L807.0,972.76 L807.5,972.82 L808.0,972.74 L808.5,972.58 L809.0,972.42 L809.5,972.34 L810.0,972.36 L810.5,972.43 L811.0,972.48 L811.5,972.48 L812.0,972.41 L812.5,972.27 L813.0,972.13 L813.5,971.99 L814.0,971.90 L814.5,971.88 L815.0,971.92 L815.5,971.95 L816.0,971.94 L816.5,971.84 L817.0,971.66 L817.5,971.48 L818.0,971.30 L818.5,971.16 L819.0,971.08 L819.5,971.01 L820.0,970.88 L820.5,970.69 L821.0,970.52 L821.5,970.43 L822.0,970.47 L822.5,970.60 L823.0,970.72 L823.5,970.74 L824.0,970.64 L824.5,970.41 L825.0,970.13 L825.5,969.88 L826.0,969.74 L826.5,969.72 L827.0,969.74 L827.5,969.75 L828.0,969.72 L828.5,969.69 L829.0,969.67 L829.5,969.64 L830.0,969.58 L830.5,969.48 L831.0,969.42 L831.5,969.42 L832.0,969.46 L832.5,969.54 L833.0,969.64 L833.5,969.69 L834.0,969.69 L834.5,969.66 L835.0,969.58 L835.5,969.54 L836.0,969.63 L836.5,969.80 L837.0,969.97 L837.5,970.06 L838.0,970.07 L838.5,970.02 L839.0,969.98 L839.5,969.95 L840.0,969.95 L840.5,969.99 L841.0,970.10 L841.5,970.20 L842.0,970.24 L842.5,970.30 L843.0,970.45 L843.5,970.68 L844.0,970.87 L844.5,970.92 L845.0,970.84 L845.5,970.73 L846.0,970.74 L846.5,970.86 L847.0,971.05 L847.5,971.22 L848.0,971.31 L848.5,971.33 L849.0,971.28 L849.5,971.21 L850.0,971.18 L850.5,971.26 L851.0,971.39 L851.5,971.53 L852.0,971.70 L852.5,971.89 L853.0,972.05 L853.5,972.16 L854.0,972.14 L854.5,972.00 L855.0,971.84 L855.5,971.78 L856.0,971.86 L856.5,972.04 L857.0,972.21 L857.5,972.29 L858.0,972.25 L858.5,972.08 L859.0,971.82 L859.5,971.59 L860.0,971.46 L860.5,971.43 L861.0,971.53 L861.5,971.70 L862.0,971.88 L862.5,971.99 L863.0,971.98 L863.5,971.90 L864.0,971.77 L864.5,971.64 L865.0,971.56 L865.5,971.53 L866.0,971.53 L866.5,971.60 L867.0,971.68 L867.5,971.65 L868.0,971.52 L868.5,971.33 L869.0,971.16 L869.5,971.05 L870.0,971.04 L870.5,971.07 L871.0,971.11 L871.5,971.07 L872.0,970.97 L872.5,970.85 L873.0,970.78 L873.5,970.78 L874.0,970.81 L874.5,970.82 L875.0,970.79 L875.5,970.75 L876.0,970.66 L876.5,970.49 L877.0,970.28 L877.5,970.05 L878.0,969.87 L878.5,969.73 L879.0,969.64 L879.5,969.55 L880.0,969.40 L880.5,969.19 L881.0,968.93 L881.5,968.71 L882.0,968.54 L882.5,968.41 L883.0,968.24 L883.5,968.03 L884.0,967.81 L884.5,967.56 L885.0,967.11 L885.5,966.76 L886.0,966.38 L886.5,965.96 L887.0,965.49 L887.5,964.99 L888.0,964.45 L888.5,963.85 L889.0,963.11 L889.5,962.23 L890.0,961.22 L890.5,960.11 L891.0,958.92 L891.5,957.66 L892.0,956.31 L892.5,954.78 L893.0,953.09 L893.5,951.25 L894.0,949.26 L894.5,947.12 L895.0,944.70 L895.5,942.01 L896.0,939.07 L896.5,935.91 L897.0,932.49 L897.5,928.74 L898.0,924.61 L898.5,920.04 L899.0,914.80 L899.5,908.85 L900.0,902.28 L900.5,894.94 L901.0,886.60 L901.5,877.65 L902.0,868.42 L902.5,858.75 L903.0,848.59 L903.5,837.97 L904.0,826.82 L904.5,814.92 L905.0,802.52 L905.5,789.74 L906.0,776.50 L906.5,762.92 L907.0,749.14 L907.5,735.29 L908.0,721.52 L908.5,707.97 L909.0,694.75 L909.5,681.74 L910.0,668.85 L910.5,656.06 L911.0,643.33 L911.5,630.63 L912.0,617.90 L912.5,605.13 L913.0,591.94 L913.5,577.98 L914.0,565.46 L914.5,556.12 L915.0,548.34 L915.5,541.61 L916.0,535.63 L916.5,529.93 L917.0,524.55 L917.5,520.51 L918.0,518.34 L918.5,516.73 L919.0,516.03 L919.5,516.28 L920.0,517.59 L920.5,519.50 L921.0,523.37 L921.5,529.45 L922.0,535.68 L922.5,541.59 L923.0,547.85 L923.5,554.89 L924.0,563.24 L924.5,574.55 L925.0,587.62 L925.5,600.00 L926.0,610.96 L926.5,621.47 L927.0,631.64 L927.5,641.57 L928.0,651.38 L928.5,661.17 L929.0,671.03 L929.5,681.09 L930.0,691.44 L930.5,702.19 L931.0,713.59 L931.5,725.54 L932.0,737.81 L932.5,750.18 L933.0,762.42 L933.5,774.31 L934.0,785.60 L934.5,796.09 L935.0,805.64 L935.5,814.57 L936.0,822.91 L936.5,830.67 L937.0,837.85 L937.5,844.59 L938.0,850.96 L938.5,857.02 L939.0,862.81 L939.5,868.41 L940.0,873.93 L940.5,879.31 L941.0,884.44 L941.5,889.19 L942.0,893.42 L942.5,897.15 L943.0,900.59 L943.5,903.78 L944.0,906.76 L944.5,909.57 L945.0,912.24 L945.5,914.81 L946.0,917.30 L946.5,919.70 L947.0,921.99 L947.5,924.16 L948.0,926.19 L948.5,928.06 L949.0,929.76 L949.5,931.36 L950.0,932.87 L950.5,934.30 L951.0,935.65 L951.5,936.92 L952.0,938.12 L952.5,939.25 L953.0,940.32 L953.5,941.35 L954.0,942.33 L954.5,943.28 L955.0,944.19 L955.5,945.05 L956.0,945.86 L956.5,946.63 L957.0,947.34 L957.5,948.00 L958.0,948.61 L958.5,949.19 L959.0,949.73 L959.5,950.24 L960.0,950.73 L960.5,951.19 L961.0,951.64 L961.5,952.07 L962.0,952.50 L962.5,952.92 L963.0,953.33 L963.5,953.74 L964.0,954.14 L964.5,954.54 L965.0,954.92 L965.5,955.30 L966.0,955.66 L966.5,956.02 L967.0,956.36 L967.5,956.70 L968.0,957.02 L968.5,957.36 L969.0,957.67 L969.5,957.91 L970.0,958.17 L970.5,958.51 L971.0,958.90 L971.5,959.27 L972.0,959.55 L972.5,959.71 L973.0,959.80 L973.5,959.93 L974.0,960.13 L974.5,960.35 L975.0,960.57 L975.5,960.76 L976.0,960.98 L976.5,961.27 L977.0,961.53 L977.5,961.68 L978.0,961.69 L978.5,961.64 L979.0,961.64 L979.5,961.80 L980.0,962.08 L980.5,962.35 L981.0,962.55 L981.5,962.63 L982.0,962.60 L982.5,962.55 L983.0,962.57 L983.5,962.70 L984.0,962.90 L984.5,963.18 L985.0,963.44 L985.5,963.61 L986.0,963.68 L986.5,963.68 L987.0,963.66 L987.5,963.68 L988.0,963.79 L988.5,963.97 L989.0,964.14 L989.5,964.28 L990.0,964.35 L990.5,964.36 L991.0,964.32 L991.5,964.27 L992.0,964.26 L992.5,964.28 L993.0,964.36 L993.5,964.48 L994.0,964.57 L994.5,964.60 L995.0,964.57 L995.5,964.48 L996.0,964.38 L996.5,964.32 L997.0,964.33 L997.5,964.41 L998.0,964.61 L998.5,964.88 L999.0,965.15 L999.5,965.38 L1000.0,965.51 L1000.5,965.54 L1001.0,965.51 L1001.5,965.46 L1002.0,965.44 L1002.5,965.49 L1003.0,965.60 L1003.5,965.73 L1004.0,965.85 L1004.5,965.91 L1005.0,965.86 L1005.5,965.77 L1006.0,965.67 L1006.5,965.62 L1007.0,965.66 L1007.5,965.81 L1008.0,965.99 L1008.5,966.10 L1009.0,966.13 L1009.5,966.07 L1010.0,966.03 L1010.5,966.07 L1011.0,966.17 L1011.5,966.21 L1012.0,966.22 L1012.5,966.23 L1013.0,966.32 L1013.5,966.48 L1014.0,966.62 L1014.5,966.66 L1015.0,966.63 L1015.5,966.62 L1016.0,966.68 L1016.5,966.79 L1017.0,966.87 L1017.5,966.89 L1018.0,966.83 L1018.5,966.73 L1019.0,966.70 L1019.5,966.74 L1020.0,966.78 L1020.5,966.81 L1021.0,966.87 L1021.5,967.00 L1022.0,967.24 L1022.5,967.45 L1023.0,967.50 L1023.5,967.41 L1024.0,967.31 L1024.5,967.32 L1025.0,967.42 L1025.5,967.55 L1026.0,967.69 L1026.5,967.81 L1027.0,967.88 L1027.5,967.88 L1028.0,967.85 L1028.5,967.82 L1029.0,967.88 L1029.5,968.00 L1030.0,968.07 L1030.5,968.03 L1031.0,967.96 L1031.5,967.91 L1032.0,967.93 L1032.5,968.08 L1033.0,968.23 L1033.5,968.32 L1034.0,968.34 L1034.5,968.29 L1035.0,968.24 L1035.5,968.25 L1036.0,968.27 L1036.5,968.26 L1037.0,968.21 L1037.5,968.09 L1038.0,967.97 L1038.5,967.93 L1039.0,967.98 L1039.5,968.05 L1040.0,968.12 L1040.5,968.14 L1041.0,968.12 L1041.5,968.17 L1042.0,968.37 L1042.5,968.63 L1043.0,968.82 L1043.5,968.84 L1044.0,968.69 L1044.5,968.51 L1045.0,968.44 L1045.5,968.49 L1046.0,968.59 L1046.5,968.66 L1047.0,968.66 L1047.5,968.60 L1048.0,968.55 L1048.5,968.51 L1049.0,968.49 L1049.5,968.49 L1050.0,968.53 L1050.5,968.63 L1051.0,968.80 L1051.5,968.98 L1052.0,969.09 L1052.5,969.15 L1053.0,969.14 L1053.5,969.07 L1054.0,968.99 L1054.5,968.91 L1055.0,968.84 L1055.5,968.82 L1056.0,968.88 L1056.5,969.00 L1057.0,969.13 L1057.5,969.18 L1058.0,969.18 L1058.5,969.23 L1059.0,969.37 L1059.5,969.56 L1060.0,969.68 L1060.5,969.60 L1061.0,969.39 L1061.5,969.25 L1062.0,969.25 L1062.5,969.34 L1063.0,969.43 L1063.5,969.43 L1064.0,969.34 L1064.5,969.29 L1065.0,969.39 L1065.5,969.60 L1066.0,969.83 L1066.5,970.00 L1067.0,970.00 L1067.5,969.81 L1068.0,969.56 L1068.5,969.40 L1069.0,969.41 L1069.5,969.59 L1070.0,969.83 L1070.5,969.96 L1071.0,969.91 L1071.5,969.81 L1072.0,969.73 L1072.5,969.68 L1073.0,969.65 L1073.5,969.64 L1074.0,969.67 L1074.5,969.76 L1075.0,969.86 L1075.5,969.95 L1076.0,969.99 L1076.5,970.05 L1077.0,970.15 L1077.5,970.20 L1078.0,970.14 L1078.5,969.98 L1079.0,969.76 L1079.5,969.60 L1080.0,969.59 L1080.5,969.73 L1081.0,969.89 L1081.5,969.99 L1082.0,969.94 L1082.5,969.85 L1083.0,969.86 L1083.5,969.95 L1084.0,970.08 L1084.5,970.22 L1085.0,970.35 L1085.5,970.42 L1086.0,970.43 L1086.5,970.32 L1087.0,970.12 L1087.5,969.97 L1088.0,969.96 L1088.5,970.06 L1089.0,970.18 L1089.5,970.26 L1090.0,970.32 L1090.5,970.42 L1091.0,970.50 L1091.5,970.51 L1092.0,970.47 L1092.5,970.46 L1093.0,970.50 L1093.5,970.63 L1094.0,970.77 L1094.5,970.84 L1095.0,970.81 L1095.5,970.68 L1096.0,970.47 L1096.5,970.29 L1097.0,970.24 L1097.5,970.31 L1098.0,970.44 L1098.5,970.57 L1099.0,970.63 L1099.5,970.63 L1100.0,970.58 L1100.5,970.53 L1101.0,970.53 L1101.5,970.60 L1102.0,970.72 L1102.5,970.85 L1103.0,970.96 L1103.5,970.99 L1104.0,970.89 L1104.5,970.71 L1105.0,970.53 L1105.5,970.44 L1106.0,970.48 L1106.5,970.57 L1107.0,970.61 L1107.5,970.54 L1108.0,970.44 L1108.5,970.44 L1109.0,970.54 L1109.5,970.68 L1110.0,970.77 L1110.5,970.81 L1111.0,970.84 L1111.5,970.86 L1112.0,970.88 L1112.5,970.89 L1113.0,970.94 L1113.5,971.06 L1114.0,971.21 L1114.5,971.29 L1115.0,971.28 L1115.5,971.24 L1116.0,971.22 L1116.5,971.20 L1117.0,971.18 L1117.5,971.15 L1118.0,971.15 L1118.5,971.19 L1119.0,971.30 L1119.5,971.38 L1120.0,971.38 L1120.5,971.31 L1121.0,971.27 L1121.5,971.23 L1122.0,971.19 L1122.5,971.21 L1123.0,971.22 L1123.5,971.21 L1124.0,971.22 L1124.5,971.18 L1125.0,971.07 L1125.5,970.98 L1126.0,970.94 L1126.5,970.93 L1127.0,970.93 L1127.5,970.95 L1128.0,970.98 L1128.5,971.06 L1129.0,971.17 L1129.5,971.24 L1130.0,971.21 L1130.5,971.10 L1131.0,971.02 L1131.5,971.08 L1132.0,971.25 L1132.5,971.43 L1133.0,971.50 L1133.5,971.46 L1134.0,971.39 L1134.5,971.36 L1135.0,971.40 L1135.5,971.45 L1136.0,971.49 L1136.5,971.47 L1137.0,971.39 L1137.5,971.33 L1138.0,971.39 L1138.5,971.63 L1139.0,971.89 L1139.5,972.00 L1140.0,971.90 L1140.5,971.66 L1141.0,971.39 L1141.5,971.23 L1142.0,971.17 L1142.5,971.18 L1143.0,971.28 L1143.5,971.44 L1144.0,971.55 L1144.5,971.52 L1145.0,971.38 L1145.5,971.19 L1146.0,971.10 L1146.5,971.18 L1147.0,971.35 L1147.5,971.49 L1148.0,971.55 L1148.5,971.50 L1149.0,971.39 L1149.5,971.34 L1150.0,971.40 L1150.5,971.54 L1151.0,971.65 L1151.5,971.70 L1152.0,971.71 L1152.5,971.71 L1153.0,971.68 L1153.5,971.63 L1154.0,971.55 L1154.5,971.49 L1155.0,971.50 L1155.5,971.55 L1156.0,971.61 L1156.5,971.68 L1157.0,971.76 L1157.5,971.80 L1158.0,971.77 L1158.5,971.71 L1159.0,971.65 L1159.5,971.61 L1160.0,971.56 L1160.5,971.44 L1161.0,971.29 L1161.5,971.16 L1162.0,971.07 L1162.5,971.03 L1163.0,971.05 L1163.5,971.17 L1164.0,971.34 L1164.5,971.48 L1165.0,971.53 L1165.5,971.50 L1166.0,971.36 L1166.5,971.22 L1167.0,971.17 L1167.5,971.27 L1168.0,971.45 L1168.5,971.61 L1169.0,971.63 L1169.5,971.52 L1170.0,971.42 L1170.5,971.37 L1171.0,971.35 L1171.5,971.30 L1172.0,971.23 L1172.5,971.23 L1173.0,971.32 L1173.5,971.41 L1174.0,971.42 L1174.5,971.37 L1175.0,971.32 L1175.5,971.32 L1176.0,971.33 L1176.5,971.27 L1177.0,971.17 L1177.5,971.16 L1178.0,971.26 L1178.5,971.38 L1179.0,971.47 L1179.5,971.50 L1180.0,971.48 L1180.5,971.48 L1181.0,971.53 L1181.5,971.60 L1182.0,971.68 L1182.5,971.77 L1183.0,971.81 L1183.5,971.75 L1184.0,971.64 L1184.5,971.49 L1185.0,971.38 L1185.5,971.35 L1186.0,971.37 L1186.5,971.44 L1187.0,971.55 L1187.5,971.64 L1188.0,971.69 L1188.5,971.76 L1189.0,971.81 L1189.5,971.82 L1190.0,971.78 L1190.5,971.73 L1191.0,971.74 L1191.5,971.80 L1192.0,971.84 L1192.5,971.79 L1193.0,971.65 L1193.5,971.53 L1194.0,971.54 L1194.5,971.66 L1195.0,971.77 L1195.5,971.81 L1196.0,971.80 L1196.5,971.73 L1197.0,971.66 L1197.5,971.61 L1198.0,971.59 L1198.5,971.60 L1199.0,971.64 L1199.5,971.69 L1200.0,971.73 L1200.5,971.81 L1201.0,971.90 L1201.5,972.01 L1202.0,972.07 L1202.5,972.09 L1203.0,972.05 L1203.5,971.95 L1204.0,971.86 L1204.5,971.86 L1205.0,971.92 L1205.5,971.94 L1206.0,971.90 L1206.5,971.81 L1207.0,971.71 L1207.5,971.70 L1208.0,971.83 L1208.5,971.98 L1209.0,972.09 L1209.5,972.18 L1210.0,972.21 L1210.5,972.21 L1211.0,972.21 L1211.5,972.17 L1212.0,972.05 L1212.5,971.91 L1213.0,971.84 L1213.5,971.89 L1214.0,972.02 L1214.5,972.10 L1215.0,972.03 L1215.5,971.87 L1216.0,971.75 L1216.5,971.76 L1217.0,971.87 L1217.5,972.00 L1218.0,972.07 L1218.5,972.10 L1219.0,972.12 L1219.5,972.12 L1220.0,972.09 L1220.5,972.04 L1221.0,971.95 L1221.5,971.87 L1222.0,971.84 L1222.5,971.90 L1223.0,972.02 L1223.5,972.15 L1224.0,972.26 L1224.5,972.34 L1225.0,972.41 L1225.5,972.41 L1226.0,972.33 L1226.5,972.22 L1227.0,972.15 L1227.5,972.20 L1228.0,972.31 L1228.5,972.39 L1229.0,972.39 L1229.5,972.31 L1230.0,972.22 L1230.5,972.18 L1231.0,972.18 L1231.5,972.21 L1232.0,972.25 L1232.5,972.31 L1233.0,972.42 L1233.5,972.59 L1234.0,972.77 L1234.5,972.90 L1235.0,972.95 L1235.5,972.95 L1236.0,972.99 L1236.5,973.09 L1237.0,973.14 L1237.5,973.11 L1238.0,972.93 L1238.5,972.62 L1239.0,972.32 L1239.5,972.19 L1240.0,972.26 L1240.5,972.46 L1241.0,972.74 L1241.5,972.95 L1242.0,973.05 L1242.5,973.14 L1243.0,973.23 L1243.5,973.27 L1244.0,973.24 L1244.5,973.18 L1245.0,973.10 L1245.5,973.02 L1246.0,972.98 L1246.5,972.97 L1247.0,972.99 L1247.5,973.09 L1248.0,973.24 L1248.5,973.33 L1249.0,973.32 L1249.5,973.23 L1250.0,973.14 L1250.5,973.15 L1251.0,973.27 L1251.5,973.39 L1252.0,973.43 L1252.5,973.41 L1253.0,973.38 L1253.5,973.34 L1254.0,973.33 L1254.5,973.34 L1255.0,973.34 L1255.5,973.38 L1256.0,973.43 L1256.5,973.45 L1257.0,973.47 L1257.5,973.43 L1258.0,973.31 L1258.5,973.13 L1259.0,972.96 L1259.5,972.90 L1260.0,973.01 L1260.5,973.25 L1261.0,973.45 L1261.5,973.56 L1262.0,973.62 L1262.5,973.64 L1263.0,973.65 L1263.5,973.68 L1264.0,973.73 L1264.5,973.74 L1265.0,973.67 L1265.5,973.58 L1266.0,973.49 L1266.5,973.46 L1267.0,973.56 L1267.5,973.71 L1268.0,973.81 L1268.5,973.88 L1269.0,973.91 L1269.5,973.92 L1270.0,973.94 L1270.5,973.94 L1271.0,973.91 L1271.5,973.87 L1272.0,973.83 L1272.5,973.77 L1273.0,973.74 L1273.5,973.78 L1274.0,973.87 L1274.5,973.98 L1275.0,974.07 L1275.5,974.12 L1276.0,974.14 L1276.5,974.15 L1277.0,974.19 L1277.5,974.22 L1278.0,974.27 L1278.5,974.32 L1279.0,974.32 L1279.5,974.29 L1280.0,974.30 L1280.5,974.38 L1281.0,974.53 L1281.5,974.69 L1282.0,974.81 L1282.5,974.88 L1283.0,975.20 L1283.5,975.96 L1284.0,977.59 L1284.5,979.70 L1285.0,981.85 L1285.5,983.73 L1286.0,985.74 L1286.5,987.97 L1287.0,990.35 L1287.5,992.79 L1288.0,995.22 L1288.5,997.56 L1289.0,999.73 L1289.5,1001.66 L1290.0,1003.27 L1290.5,1004.48 L1291.0,1005.21 L1291.5,1005.36 L1292.0,1004.18 L1292.5,1002.01 L1293.0,999.74 L1293.5,998.02 L1294.0,996.42 L1294.5,994.86 L1295.0,993.36 L1295.5,991.91 L1296.0,990.53 L1296.5,989.21 L1297.0,987.93 L1297.5,986.68 L1298.0,985.49 L1298.5,984.38 L1299.0,983.37 L1299.5,982.47 L1300.0,981.65 L1300.5,980.89 L1301.0,980.17 L1301.5,979.49 L1302.0,978.83 L1302.5,978.17 L1303.0,977.50 L1303.5,976.83 L1304.0,976.17 L1304.5,975.54 L1305.0,974.94 L1305.5,974.40 L1306.0,973.91 L1306.5,973.41 L1307.0,972.92 L1307.5,972.47 L1308.0,972.07 L1308.5,971.82 L1309.0,971.54 L1309.5,971.40 L1310.0,971.36 L1310.5,971.35 L1311.0,971.28 L1311.5,971.12 L1312.0,970.93 L1312.5,970.73 L1313.0,970.58 L1313.5,970.53 L1314.0,970.53 L1314.5,970.52 L1315.0,970.48 L1315.5,970.40 L1316.0,970.28 L1316.5,970.14 L1317.0,970.03 L1317.5,969.98 L1318.0,970.01 L1318.5,970.07 L1319.0,970.13 L1319.5,970.19 L1320.0,970.23 L1320.5,970.23 L1321.0,970.19 L1321.5,970.16 L1322.0,970.19 L1322.5,970.27 L1323.0,970.36 L1323.5,970.39 L1324.0,970.37 L1324.5,970.37 L1325.0,970.45 L1325.5,970.57 L1326.0,970.68 L1326.5,970.75 L1327.0,970.75 L1327.5,970.73 L1328.0,970.75 L1328.5,970.78 L1329.0,970.77 L1329.5,970.74 L1330.0,970.69 L1330.5,970.66 L1331.0,970.74 L1331.5,970.83 L1332.0,970.87 L1332.5,970.86 L1333.0,970.84 L1333.5,970.85 L1334.0,970.91 L1334.5,971.01 L1335.0,971.06 L1335.5,971.00 L1336.0,970.84 L1336.5,970.65 L1337.0,970.54 L1337.5,970.58 L1338.0,970.72 L1338.5,970.81 L1339.0,970.80 L1339.5,970.75 L1340.0,970.70 L1340.5,970.70 L1341.0,970.69 L1341.5,970.64 L1342.0,970.59 L1342.5,970.62 L1343.0,970.68 L1343.5,970.70 L1344.0,970.66 L1344.5,970.56 L1345.0,970.49 L1345.5,970.51 L1346.0,970.62 L1346.5,970.79 L1347.0,970.92 L1347.5,970.95 L1348.0,970.89 L1348.5,970.80 L1349.0,970.74 L1349.5,970.79 L1350.0,970.89 L1350.5,970.91 L1351.0,970.82 L1351.5,970.67 L1352.0,970.49 L1352.5,970.33 L1353.0,970.26 L1353.5,970.27 L1354.0,970.32 L1354.5,970.36 L1355.0,970.34 L1355.5,970.27 L1356.0,970.20 L1356.5,970.14 L1357.0,970.09 L1357.5,970.05 L1358.0,970.04 L1358.5,970.09 L1359.0,970.20 L1359.5,970.27 L1360.0,970.26 L1360.5,970.20 L1361.0,970.12 L1361.5,970.08 L1362.0,970.13 L1362.5,970.23 L1363.0,970.33 L1363.5,970.41 L1364.0,970.42 L1364.5,970.32 L1365.0,970.18 L1365.5,970.04 L1366.0,969.94 L1366.5,969.92 L1367.0,969.96 L1367.5,969.98 L1368.0,969.95 L1368.5,969.91 L1369.0,969.85 L1369.5,969.80 L1370.0,969.77 L1370.5,969.70 L1371.0,969.65 L1371.5,969.56 L1372.0,969.46 L1372.5,969.35 L1373.0,969.28 L1373.5,969.29 L1374.0,969.38 L1374.5,969.50 L1375.0,969.58 L1375.5,969.68 L1376.0,969.83 L1376.5,969.97 L1377.0,970.03 L1377.5,969.96 L1378.0,969.80 L1378.5,969.68 L1379.0,969.62 L1379.5,969.57 L1380.0,969.46 L1380.5,969.30 L1381.0,969.15 L1381.5,969.07 L1382.0,969.07 L1382.5,969.14 L1383.0,969.26 L1383.5,969.43 L1384.0,969.57 L1384.5,969.68 L1385.0,969.75 L1385.5,969.80 L1386.0,969.86 L1386.5,969.96 L1387.0,970.07 L1387.5,970.15 L1388.0,970.21 L1388.5,970.25 L1389.0,970.26 L1389.5,970.25" fill="none" stroke="#ff0000" stroke-width="2.1" stroke-linejoin="round"/>

<g fill="none" stroke="#000" stroke-width="2.1"><path d="M100.0,1037.9 H1389.65 V1042.1000000000001" stroke-linejoin="round"/><path d="M100.4,1037.9 L102.7,1043.9"/><path d="M238.1,1037.9 V1043.9"/><path d="M373.5,1037.9 V1043.9"/><path d="M508.8,1037.9 V1043.9"/><path d="M644.2,1037.9 V1043.9"/><path d="M779.5,1037.9 V1043.9"/><path d="M914.9,1037.9 V1043.9"/><path d="M1050.3,1037.9 V1043.9"/><path d="M1185.6,1037.9 L1187.4,1043.9"/><path d="M1321.0,1037.9 L1323.5,1043.9"/></g><g font-size="26.5px" fill="#000" stroke="#000" stroke-width="0.4"><text transform="translate(98.8,1070.7) scale(0.965,1)">0</text><text transform="translate(234.5,1070.7) scale(0.965,1)">2</text><text transform="translate(369.6,1070.7) scale(0.965,1)">4</text><text transform="translate(505.5,1070.7) scale(0.965,1)">6</text><text transform="translate(640.5,1070.7) scale(0.965,1)">8</text><text transform="translate(774.2,1070.7) scale(0.965,1)">10</text><text transform="translate(909.7,1070.7) scale(0.965,1)">12</text><text transform="translate(1044.8,1070.7) scale(0.965,1)">14</text><text transform="translate(1181.6,1070.7) scale(0.965,1)">16</text><text transform="translate(1317.4,1070.7) scale(0.965,1)">18</text><text transform="translate(1375.0,1070.7) scale(0.99,1)">min</text></g>

<rect x="94.5" y="1101.5" width="1299" height="355" fill="url(#boxg)" stroke="#c1c1c1" stroke-width="3"/>
<g font-size="33px" fill="#000" stroke="#000" stroke-width="0.4">
<text x="125.4" y="1155.9" textLength="132.6" lengthAdjust="spacingAndGlyphs" font-weight="bold" stroke-width="0.3">Column:</text>
<text x="125.4" y="1203.1" textLength="199.1" lengthAdjust="spacingAndGlyphs" font-weight="bold" stroke-width="0.3">Column size:</text>
<text x="125.6" y="1247.9" textLength="225.2" lengthAdjust="spacingAndGlyphs" font-weight="bold" stroke-width="0.3">Mobile phase:</text>
<text x="126.3" y="1292.3" textLength="106.6" lengthAdjust="spacingAndGlyphs" font-weight="bold" stroke-width="0.3">Buffer:</text>
<text x="126.3" y="1339.3" textLength="157.1" lengthAdjust="spacingAndGlyphs" font-weight="bold" stroke-width="0.3">Flow rate:</text>
<text x="126.3" y="1383.7" textLength="163.1" lengthAdjust="spacingAndGlyphs" font-weight="bold" stroke-width="0.3">Detection:</text>
<text x="125.7" y="1431.0" textLength="212.1" lengthAdjust="spacingAndGlyphs" font-weight="bold" stroke-width="0.3">Temperature:</text>
<text x="562.2" y="1155.9" textLength="131.1" lengthAdjust="spacingAndGlyphs">OligoMg</text>
<text x="561.8" y="1203.1" textLength="45.8" lengthAdjust="spacingAndGlyphs">4.6</text>
<text x="644.1" y="1203.1" textLength="55.6" lengthAdjust="spacingAndGlyphs">150</text>
<text x="709.7" y="1203.1" textLength="68.2" lengthAdjust="spacingAndGlyphs">mm,</text>
<text x="788.1" y="1203.1" textLength="17.3" lengthAdjust="spacingAndGlyphs">3</text>
<text x="815.5" y="1203.1" textLength="51.1" lengthAdjust="spacingAndGlyphs">µm</text>
<text x="562.2" y="1247.9" textLength="127.9" lengthAdjust="spacingAndGlyphs">gradient</text>
<text x="708.4" y="1247.9" textLength="94.8" lengthAdjust="spacingAndGlyphs">MeCN</text>
<text x="809.0" y="1247.9" textLength="11.7" lengthAdjust="spacingAndGlyphs">-</text>
<text x="831.3" y="1247.9" textLength="125.9" lengthAdjust="spacingAndGlyphs">65-30%,</text>
<text x="965.8" y="1247.9" textLength="28.5" lengthAdjust="spacingAndGlyphs">in</text>
<text x="1004.8" y="1247.9" textLength="36.3" lengthAdjust="spacingAndGlyphs">15</text>
<text x="1050.8" y="1247.9" textLength="58.6" lengthAdjust="spacingAndGlyphs">min</text>
<text x="562.2" y="1292.3" textLength="79.1" lengthAdjust="spacingAndGlyphs">none</text>
<text x="563.4" y="1339.3" textLength="46.2" lengthAdjust="spacingAndGlyphs">1.0</text>
<text x="618.5" y="1339.3" textLength="120.1" lengthAdjust="spacingAndGlyphs">mL/min</text>
<text x="563.4" y="1383.7" textLength="42.2" lengthAdjust="spacingAndGlyphs">UV</text>
<text x="617.1" y="1383.7" textLength="57.5" lengthAdjust="spacingAndGlyphs">260</text>
<text x="683.4" y="1383.7" textLength="50.0" lengthAdjust="spacingAndGlyphs">nm</text>
<text x="562.4" y="1430.9" textLength="84.2" lengthAdjust="spacingAndGlyphs" font-size="36.4px">30ºC</text>
<path d="M620.0,1181.6 L636.9,1197.6 M636.9,1181.6 L620.0,1197.6" fill="none" stroke="#000" stroke-width="3.5"/>
</g>
</svg>
</body>
</html>
